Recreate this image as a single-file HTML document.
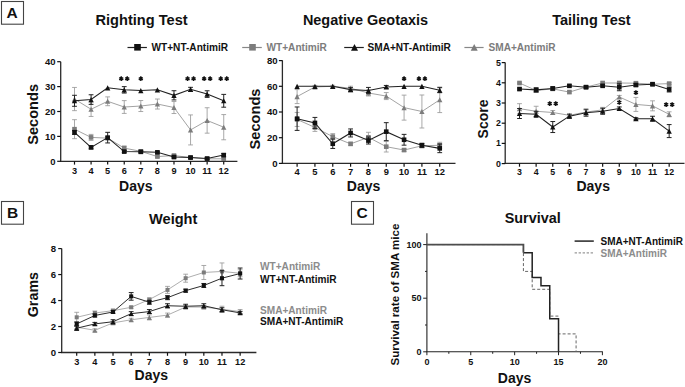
<!DOCTYPE html>
<html><head><meta charset="utf-8"><style>
html,body{margin:0;padding:0;background:#fff;}
svg{display:block;font-family:"Liberation Sans", sans-serif;}
</style></head><body>
<svg width="685" height="387" viewBox="0 0 685 387">
<rect width="685" height="387" fill="#fff"/>
<rect x="1.5" y="1.5" width="22" height="22.7" fill="none" stroke="#444" stroke-width="1.1"/>
<text x="12.20" y="17.90" font-size="15.5" fill="#111" text-anchor="middle" font-weight="bold" >A</text>
<rect x="1.5" y="201.5" width="22" height="22.7" fill="none" stroke="#444" stroke-width="1.1"/>
<text x="12.60" y="218.00" font-size="15.5" fill="#111" text-anchor="middle" font-weight="bold" >B</text>
<rect x="351.5" y="201.5" width="22" height="22.7" fill="none" stroke="#444" stroke-width="1.1"/>
<text x="362.20" y="218.00" font-size="15.5" fill="#111" text-anchor="middle" font-weight="bold" >C</text>
<text x="141.60" y="24.60" font-size="14.6" fill="#111" text-anchor="middle" font-weight="bold" >Righting Test</text>
<text x="365.50" y="25.10" font-size="14.45" fill="#111" text-anchor="middle" font-weight="bold" >Negative Geotaxis</text>
<text x="591.40" y="25.30" font-size="14.5" fill="#111" text-anchor="middle" font-weight="bold" >Tailing Test</text>
<text x="173.20" y="223.60" font-size="14.6" fill="#111" text-anchor="middle" font-weight="bold" >Weight</text>
<text x="532.70" y="223.40" font-size="14.4" fill="#111" text-anchor="middle" font-weight="bold" >Survival</text>
<line x1="127.50" y1="47.50" x2="146.90" y2="47.50" stroke="#222" stroke-width="1.2" />
<rect x="134.20" y="44.00" width="6.6" height="6.6" fill="#111"/>
<text x="151.50" y="50.90" font-size="10.1" fill="#111" text-anchor="start" font-weight="bold" >WT+NT-AntimiR</text>
<line x1="242.20" y1="47.50" x2="261.80" y2="47.50" stroke="#888" stroke-width="1.2" />
<rect x="249.20" y="44.00" width="6.6" height="6.6" fill="#7c7c7c"/>
<text x="266.50" y="50.90" font-size="10.1" fill="#7c7c7c" text-anchor="start" font-weight="bold" >WT+AntimiR</text>
<line x1="344.20" y1="47.50" x2="363.80" y2="47.50" stroke="#222" stroke-width="1.2" />
<path d="M351.00,50.82L358.00,50.82L354.50,43.88Z" fill="#111"/>
<text x="367.50" y="50.90" font-size="10.1" fill="#111" text-anchor="start" font-weight="bold" >SMA+NT-AntimiR</text>
<line x1="464.40" y1="47.50" x2="483.60" y2="47.50" stroke="#888" stroke-width="1.2" />
<path d="M470.70,50.82L477.70,50.82L474.20,43.88Z" fill="#7c7c7c"/>
<text x="488.50" y="50.90" font-size="10.1" fill="#7c7c7c" text-anchor="start" font-weight="bold" >SMA+AntimiR</text>
<line x1="60.70" y1="61.70" x2="60.70" y2="161.30" stroke="#2a2a2a" stroke-width="1.3" />
<line x1="60.05" y1="161.30" x2="237.40" y2="161.30" stroke="#2a2a2a" stroke-width="1.3" />
<line x1="57.20" y1="161.30" x2="60.70" y2="161.30" stroke="#111" stroke-width="1.2" />
<text x="55.60" y="164.53" font-size="9.5" fill="#111" text-anchor="end" font-weight="bold" >0</text>
<line x1="57.20" y1="136.40" x2="60.70" y2="136.40" stroke="#111" stroke-width="1.2" />
<text x="55.60" y="139.63" font-size="9.5" fill="#111" text-anchor="end" font-weight="bold" >10</text>
<line x1="57.20" y1="111.50" x2="60.70" y2="111.50" stroke="#111" stroke-width="1.2" />
<text x="55.60" y="114.73" font-size="9.5" fill="#111" text-anchor="end" font-weight="bold" >20</text>
<line x1="57.20" y1="86.60" x2="60.70" y2="86.60" stroke="#111" stroke-width="1.2" />
<text x="55.60" y="89.83" font-size="9.5" fill="#111" text-anchor="end" font-weight="bold" >30</text>
<line x1="57.20" y1="61.70" x2="60.70" y2="61.70" stroke="#111" stroke-width="1.2" />
<text x="55.60" y="64.93" font-size="9.5" fill="#111" text-anchor="end" font-weight="bold" >40</text>
<line x1="74.50" y1="161.30" x2="74.50" y2="164.60" stroke="#111" stroke-width="1.2" />
<text x="74.50" y="173.50" font-size="9.2" fill="#111" text-anchor="middle" font-weight="bold" >3</text>
<line x1="91.08" y1="161.30" x2="91.08" y2="164.60" stroke="#111" stroke-width="1.2" />
<text x="91.08" y="173.50" font-size="9.2" fill="#111" text-anchor="middle" font-weight="bold" >4</text>
<line x1="107.66" y1="161.30" x2="107.66" y2="164.60" stroke="#111" stroke-width="1.2" />
<text x="107.66" y="173.50" font-size="9.2" fill="#111" text-anchor="middle" font-weight="bold" >5</text>
<line x1="124.24" y1="161.30" x2="124.24" y2="164.60" stroke="#111" stroke-width="1.2" />
<text x="124.24" y="173.50" font-size="9.2" fill="#111" text-anchor="middle" font-weight="bold" >6</text>
<line x1="140.82" y1="161.30" x2="140.82" y2="164.60" stroke="#111" stroke-width="1.2" />
<text x="140.82" y="173.50" font-size="9.2" fill="#111" text-anchor="middle" font-weight="bold" >7</text>
<line x1="157.40" y1="161.30" x2="157.40" y2="164.60" stroke="#111" stroke-width="1.2" />
<text x="157.40" y="173.50" font-size="9.2" fill="#111" text-anchor="middle" font-weight="bold" >8</text>
<line x1="173.98" y1="161.30" x2="173.98" y2="164.60" stroke="#111" stroke-width="1.2" />
<text x="173.98" y="173.50" font-size="9.2" fill="#111" text-anchor="middle" font-weight="bold" >9</text>
<line x1="190.56" y1="161.30" x2="190.56" y2="164.60" stroke="#111" stroke-width="1.2" />
<text x="190.56" y="173.50" font-size="9.2" fill="#111" text-anchor="middle" font-weight="bold" >10</text>
<line x1="207.14" y1="161.30" x2="207.14" y2="164.60" stroke="#111" stroke-width="1.2" />
<text x="207.14" y="173.50" font-size="9.2" fill="#111" text-anchor="middle" font-weight="bold" >11</text>
<line x1="223.72" y1="161.30" x2="223.72" y2="164.60" stroke="#111" stroke-width="1.2" />
<text x="223.72" y="173.50" font-size="9.2" fill="#111" text-anchor="middle" font-weight="bold" >12</text>
<text x="135.80" y="191.30" font-size="14" fill="#111" text-anchor="middle" font-weight="bold" >Days</text>
<text transform="translate(38.0,114.4) rotate(-90)" font-size="14.6" font-weight="bold" fill="#111" text-anchor="middle">Seconds</text>
<polyline points="74.50,99.05 91.08,109.26 107.66,101.29 124.24,107.02 140.82,106.02 157.40,104.03 173.98,107.52 190.56,129.93 207.14,120.46 223.72,127.19" fill="none" stroke="#999" stroke-width="0.9"/>
<line x1="74.50" y1="87.45" x2="74.50" y2="110.65" stroke="#9a9a9a" stroke-width="0.85" />
<line x1="72.10" y1="87.45" x2="76.90" y2="87.45" stroke="#9a9a9a" stroke-width="0.85" />
<line x1="72.10" y1="110.65" x2="76.90" y2="110.65" stroke="#9a9a9a" stroke-width="0.85" />
<line x1="91.08" y1="102.06" x2="91.08" y2="116.46" stroke="#9a9a9a" stroke-width="0.85" />
<line x1="88.68" y1="102.06" x2="93.48" y2="102.06" stroke="#9a9a9a" stroke-width="0.85" />
<line x1="88.68" y1="116.46" x2="93.48" y2="116.46" stroke="#9a9a9a" stroke-width="0.85" />
<line x1="107.66" y1="96.89" x2="107.66" y2="105.69" stroke="#9a9a9a" stroke-width="0.85" />
<line x1="105.26" y1="96.89" x2="110.06" y2="96.89" stroke="#9a9a9a" stroke-width="0.85" />
<line x1="105.26" y1="105.69" x2="110.06" y2="105.69" stroke="#9a9a9a" stroke-width="0.85" />
<line x1="124.24" y1="100.62" x2="124.24" y2="113.42" stroke="#9a9a9a" stroke-width="0.85" />
<line x1="121.84" y1="100.62" x2="126.64" y2="100.62" stroke="#9a9a9a" stroke-width="0.85" />
<line x1="121.84" y1="113.42" x2="126.64" y2="113.42" stroke="#9a9a9a" stroke-width="0.85" />
<line x1="140.82" y1="100.52" x2="140.82" y2="111.52" stroke="#9a9a9a" stroke-width="0.85" />
<line x1="138.42" y1="100.52" x2="143.22" y2="100.52" stroke="#9a9a9a" stroke-width="0.85" />
<line x1="138.42" y1="111.52" x2="143.22" y2="111.52" stroke="#9a9a9a" stroke-width="0.85" />
<line x1="157.40" y1="99.03" x2="157.40" y2="109.03" stroke="#9a9a9a" stroke-width="0.85" />
<line x1="155.00" y1="99.03" x2="159.80" y2="99.03" stroke="#9a9a9a" stroke-width="0.85" />
<line x1="155.00" y1="109.03" x2="159.80" y2="109.03" stroke="#9a9a9a" stroke-width="0.85" />
<line x1="173.98" y1="101.52" x2="173.98" y2="113.52" stroke="#9a9a9a" stroke-width="0.85" />
<line x1="171.58" y1="101.52" x2="176.38" y2="101.52" stroke="#9a9a9a" stroke-width="0.85" />
<line x1="171.58" y1="113.52" x2="176.38" y2="113.52" stroke="#9a9a9a" stroke-width="0.85" />
<line x1="190.56" y1="114.93" x2="190.56" y2="144.93" stroke="#9a9a9a" stroke-width="0.85" />
<line x1="188.16" y1="114.93" x2="192.96" y2="114.93" stroke="#9a9a9a" stroke-width="0.85" />
<line x1="188.16" y1="144.93" x2="192.96" y2="144.93" stroke="#9a9a9a" stroke-width="0.85" />
<line x1="207.14" y1="107.76" x2="207.14" y2="133.16" stroke="#9a9a9a" stroke-width="0.85" />
<line x1="204.74" y1="107.76" x2="209.54" y2="107.76" stroke="#9a9a9a" stroke-width="0.85" />
<line x1="204.74" y1="133.16" x2="209.54" y2="133.16" stroke="#9a9a9a" stroke-width="0.85" />
<line x1="223.72" y1="114.59" x2="223.72" y2="139.79" stroke="#9a9a9a" stroke-width="0.85" />
<line x1="221.32" y1="114.59" x2="226.12" y2="114.59" stroke="#9a9a9a" stroke-width="0.85" />
<line x1="221.32" y1="139.79" x2="226.12" y2="139.79" stroke="#9a9a9a" stroke-width="0.85" />
<path d="M71.85,101.63L77.15,101.63L74.50,96.57Z" fill="#7c7c7c"/>
<path d="M88.43,111.84L93.73,111.84L91.08,106.78Z" fill="#7c7c7c"/>
<path d="M105.01,103.87L110.31,103.87L107.66,98.81Z" fill="#7c7c7c"/>
<path d="M121.59,109.60L126.89,109.60L124.24,104.54Z" fill="#7c7c7c"/>
<path d="M138.17,108.60L143.47,108.60L140.82,103.54Z" fill="#7c7c7c"/>
<path d="M154.75,106.61L160.05,106.61L157.40,101.55Z" fill="#7c7c7c"/>
<path d="M171.33,110.09L176.63,110.09L173.98,105.04Z" fill="#7c7c7c"/>
<path d="M187.91,132.51L193.21,132.51L190.56,127.45Z" fill="#7c7c7c"/>
<path d="M204.49,123.04L209.79,123.04L207.14,117.99Z" fill="#7c7c7c"/>
<path d="M221.07,129.77L226.37,129.77L223.72,124.71Z" fill="#7c7c7c"/>
<polyline points="74.50,129.18 91.08,137.40 107.66,138.14 124.24,148.10 140.82,151.34 157.40,156.57 173.98,155.57 190.56,157.56 207.14,158.81 223.72,158.81" fill="none" stroke="#999" stroke-width="0.9"/>
<line x1="74.50" y1="119.68" x2="74.50" y2="138.68" stroke="#9a9a9a" stroke-width="0.85" />
<line x1="72.10" y1="119.68" x2="76.90" y2="119.68" stroke="#9a9a9a" stroke-width="0.85" />
<line x1="72.10" y1="138.68" x2="76.90" y2="138.68" stroke="#9a9a9a" stroke-width="0.85" />
<line x1="91.08" y1="134.40" x2="91.08" y2="140.40" stroke="#9a9a9a" stroke-width="0.85" />
<line x1="88.68" y1="134.40" x2="93.48" y2="134.40" stroke="#9a9a9a" stroke-width="0.85" />
<line x1="88.68" y1="140.40" x2="93.48" y2="140.40" stroke="#9a9a9a" stroke-width="0.85" />
<line x1="107.66" y1="136.64" x2="107.66" y2="139.64" stroke="#9a9a9a" stroke-width="0.85" />
<line x1="105.26" y1="136.64" x2="110.06" y2="136.64" stroke="#9a9a9a" stroke-width="0.85" />
<line x1="105.26" y1="139.64" x2="110.06" y2="139.64" stroke="#9a9a9a" stroke-width="0.85" />
<line x1="124.24" y1="146.10" x2="124.24" y2="150.10" stroke="#9a9a9a" stroke-width="0.85" />
<line x1="121.84" y1="146.10" x2="126.64" y2="146.10" stroke="#9a9a9a" stroke-width="0.85" />
<line x1="121.84" y1="150.10" x2="126.64" y2="150.10" stroke="#9a9a9a" stroke-width="0.85" />
<line x1="140.82" y1="150.34" x2="140.82" y2="152.34" stroke="#9a9a9a" stroke-width="0.85" />
<line x1="138.42" y1="150.34" x2="143.22" y2="150.34" stroke="#9a9a9a" stroke-width="0.85" />
<line x1="138.42" y1="152.34" x2="143.22" y2="152.34" stroke="#9a9a9a" stroke-width="0.85" />
<line x1="157.40" y1="155.57" x2="157.40" y2="157.57" stroke="#9a9a9a" stroke-width="0.85" />
<line x1="155.00" y1="155.57" x2="159.80" y2="155.57" stroke="#9a9a9a" stroke-width="0.85" />
<line x1="155.00" y1="157.57" x2="159.80" y2="157.57" stroke="#9a9a9a" stroke-width="0.85" />
<line x1="173.98" y1="154.57" x2="173.98" y2="156.57" stroke="#9a9a9a" stroke-width="0.85" />
<line x1="171.58" y1="154.57" x2="176.38" y2="154.57" stroke="#9a9a9a" stroke-width="0.85" />
<line x1="171.58" y1="156.57" x2="176.38" y2="156.57" stroke="#9a9a9a" stroke-width="0.85" />
<line x1="190.56" y1="156.56" x2="190.56" y2="158.56" stroke="#9a9a9a" stroke-width="0.85" />
<line x1="188.16" y1="156.56" x2="192.96" y2="156.56" stroke="#9a9a9a" stroke-width="0.85" />
<line x1="188.16" y1="158.56" x2="192.96" y2="158.56" stroke="#9a9a9a" stroke-width="0.85" />
<line x1="207.14" y1="157.81" x2="207.14" y2="159.81" stroke="#9a9a9a" stroke-width="0.85" />
<line x1="204.74" y1="157.81" x2="209.54" y2="157.81" stroke="#9a9a9a" stroke-width="0.85" />
<line x1="204.74" y1="159.81" x2="209.54" y2="159.81" stroke="#9a9a9a" stroke-width="0.85" />
<line x1="223.72" y1="157.81" x2="223.72" y2="159.81" stroke="#9a9a9a" stroke-width="0.85" />
<line x1="221.32" y1="157.81" x2="226.12" y2="157.81" stroke="#9a9a9a" stroke-width="0.85" />
<line x1="221.32" y1="159.81" x2="226.12" y2="159.81" stroke="#9a9a9a" stroke-width="0.85" />
<rect x="72.20" y="126.88" width="4.6" height="4.6" fill="#7c7c7c"/>
<rect x="88.78" y="135.10" width="4.6" height="4.6" fill="#7c7c7c"/>
<rect x="105.36" y="135.84" width="4.6" height="4.6" fill="#7c7c7c"/>
<rect x="121.94" y="145.80" width="4.6" height="4.6" fill="#7c7c7c"/>
<rect x="138.52" y="149.04" width="4.6" height="4.6" fill="#7c7c7c"/>
<rect x="155.10" y="154.27" width="4.6" height="4.6" fill="#7c7c7c"/>
<rect x="171.68" y="153.27" width="4.6" height="4.6" fill="#7c7c7c"/>
<rect x="188.26" y="155.26" width="4.6" height="4.6" fill="#7c7c7c"/>
<rect x="204.84" y="156.51" width="4.6" height="4.6" fill="#7c7c7c"/>
<rect x="221.42" y="156.51" width="4.6" height="4.6" fill="#7c7c7c"/>
<polyline points="74.50,132.42 91.08,147.36 107.66,137.65 124.24,151.59 140.82,151.84 157.40,152.34 173.98,157.07 190.56,157.56 207.14,158.56 223.72,155.08" fill="none" stroke="#222" stroke-width="1.05"/>
<line x1="74.50" y1="130.42" x2="74.50" y2="134.42" stroke="#222" stroke-width="1" />
<line x1="72.10" y1="130.42" x2="76.90" y2="130.42" stroke="#222" stroke-width="1" />
<line x1="72.10" y1="134.42" x2="76.90" y2="134.42" stroke="#222" stroke-width="1" />
<line x1="91.08" y1="145.86" x2="91.08" y2="148.86" stroke="#222" stroke-width="1" />
<line x1="88.68" y1="145.86" x2="93.48" y2="145.86" stroke="#222" stroke-width="1" />
<line x1="88.68" y1="148.86" x2="93.48" y2="148.86" stroke="#222" stroke-width="1" />
<line x1="107.66" y1="132.34" x2="107.66" y2="142.95" stroke="#222" stroke-width="1" />
<line x1="105.26" y1="132.34" x2="110.06" y2="132.34" stroke="#222" stroke-width="1" />
<line x1="105.26" y1="142.95" x2="110.06" y2="142.95" stroke="#222" stroke-width="1" />
<line x1="124.24" y1="150.59" x2="124.24" y2="152.59" stroke="#222" stroke-width="1" />
<line x1="121.84" y1="150.59" x2="126.64" y2="150.59" stroke="#222" stroke-width="1" />
<line x1="121.84" y1="152.59" x2="126.64" y2="152.59" stroke="#222" stroke-width="1" />
<line x1="140.82" y1="150.84" x2="140.82" y2="152.84" stroke="#222" stroke-width="1" />
<line x1="138.42" y1="150.84" x2="143.22" y2="150.84" stroke="#222" stroke-width="1" />
<line x1="138.42" y1="152.84" x2="143.22" y2="152.84" stroke="#222" stroke-width="1" />
<line x1="157.40" y1="151.34" x2="157.40" y2="153.34" stroke="#222" stroke-width="1" />
<line x1="155.00" y1="151.34" x2="159.80" y2="151.34" stroke="#222" stroke-width="1" />
<line x1="155.00" y1="153.34" x2="159.80" y2="153.34" stroke="#222" stroke-width="1" />
<line x1="173.98" y1="156.07" x2="173.98" y2="158.07" stroke="#222" stroke-width="1" />
<line x1="171.58" y1="156.07" x2="176.38" y2="156.07" stroke="#222" stroke-width="1" />
<line x1="171.58" y1="158.07" x2="176.38" y2="158.07" stroke="#222" stroke-width="1" />
<line x1="190.56" y1="156.56" x2="190.56" y2="158.56" stroke="#222" stroke-width="1" />
<line x1="188.16" y1="156.56" x2="192.96" y2="156.56" stroke="#222" stroke-width="1" />
<line x1="188.16" y1="158.56" x2="192.96" y2="158.56" stroke="#222" stroke-width="1" />
<line x1="207.14" y1="157.56" x2="207.14" y2="159.56" stroke="#222" stroke-width="1" />
<line x1="204.74" y1="157.56" x2="209.54" y2="157.56" stroke="#222" stroke-width="1" />
<line x1="204.74" y1="159.56" x2="209.54" y2="159.56" stroke="#222" stroke-width="1" />
<line x1="223.72" y1="153.58" x2="223.72" y2="156.58" stroke="#222" stroke-width="1" />
<line x1="221.32" y1="153.58" x2="226.12" y2="153.58" stroke="#222" stroke-width="1" />
<line x1="221.32" y1="156.58" x2="226.12" y2="156.58" stroke="#222" stroke-width="1" />
<rect x="72.20" y="130.12" width="4.6" height="4.6" fill="#111"/>
<rect x="88.78" y="145.06" width="4.6" height="4.6" fill="#111"/>
<rect x="105.36" y="135.34" width="4.6" height="4.6" fill="#111"/>
<rect x="121.94" y="149.29" width="4.6" height="4.6" fill="#111"/>
<rect x="138.52" y="149.54" width="4.6" height="4.6" fill="#111"/>
<rect x="155.10" y="150.04" width="4.6" height="4.6" fill="#111"/>
<rect x="171.68" y="154.77" width="4.6" height="4.6" fill="#111"/>
<rect x="188.26" y="155.26" width="4.6" height="4.6" fill="#111"/>
<rect x="204.84" y="156.26" width="4.6" height="4.6" fill="#111"/>
<rect x="221.42" y="152.78" width="4.6" height="4.6" fill="#111"/>
<polyline points="74.50,100.79 91.08,99.55 107.66,87.84 124.24,89.84 140.82,90.58 157.40,89.84 173.98,95.32 190.56,89.34 207.14,94.07 223.72,100.79" fill="none" stroke="#222" stroke-width="1.05"/>
<line x1="74.50" y1="95.29" x2="74.50" y2="106.29" stroke="#222" stroke-width="1" />
<line x1="72.10" y1="95.29" x2="76.90" y2="95.29" stroke="#222" stroke-width="1" />
<line x1="72.10" y1="106.29" x2="76.90" y2="106.29" stroke="#222" stroke-width="1" />
<line x1="91.08" y1="94.75" x2="91.08" y2="104.35" stroke="#222" stroke-width="1" />
<line x1="88.68" y1="94.75" x2="93.48" y2="94.75" stroke="#222" stroke-width="1" />
<line x1="88.68" y1="104.35" x2="93.48" y2="104.35" stroke="#222" stroke-width="1" />
<line x1="124.24" y1="86.64" x2="124.24" y2="93.04" stroke="#222" stroke-width="1" />
<line x1="121.84" y1="86.64" x2="126.64" y2="86.64" stroke="#222" stroke-width="1" />
<line x1="121.84" y1="93.04" x2="126.64" y2="93.04" stroke="#222" stroke-width="1" />
<line x1="173.98" y1="90.72" x2="173.98" y2="99.92" stroke="#222" stroke-width="1" />
<line x1="171.58" y1="90.72" x2="176.38" y2="90.72" stroke="#222" stroke-width="1" />
<line x1="171.58" y1="99.92" x2="176.38" y2="99.92" stroke="#222" stroke-width="1" />
<line x1="190.56" y1="87.34" x2="190.56" y2="91.34" stroke="#222" stroke-width="1" />
<line x1="188.16" y1="87.34" x2="192.96" y2="87.34" stroke="#222" stroke-width="1" />
<line x1="188.16" y1="91.34" x2="192.96" y2="91.34" stroke="#222" stroke-width="1" />
<line x1="207.14" y1="90.77" x2="207.14" y2="97.37" stroke="#222" stroke-width="1" />
<line x1="204.74" y1="90.77" x2="209.54" y2="90.77" stroke="#222" stroke-width="1" />
<line x1="204.74" y1="97.37" x2="209.54" y2="97.37" stroke="#222" stroke-width="1" />
<line x1="223.72" y1="94.39" x2="223.72" y2="107.19" stroke="#222" stroke-width="1" />
<line x1="221.32" y1="94.39" x2="226.12" y2="94.39" stroke="#222" stroke-width="1" />
<line x1="221.32" y1="107.19" x2="226.12" y2="107.19" stroke="#222" stroke-width="1" />
<path d="M71.85,103.37L77.15,103.37L74.50,98.31Z" fill="#111"/>
<path d="M88.43,102.13L93.73,102.13L91.08,97.07Z" fill="#111"/>
<path d="M105.01,90.42L110.31,90.42L107.66,85.37Z" fill="#111"/>
<path d="M121.59,92.42L126.89,92.42L124.24,87.36Z" fill="#111"/>
<path d="M138.17,93.16L143.47,93.16L140.82,88.11Z" fill="#111"/>
<path d="M154.75,92.42L160.05,92.42L157.40,87.36Z" fill="#111"/>
<path d="M171.33,97.89L176.63,97.89L173.98,92.84Z" fill="#111"/>
<path d="M187.91,91.92L193.21,91.92L190.56,86.86Z" fill="#111"/>
<path d="M204.49,96.65L209.79,96.65L207.14,91.59Z" fill="#111"/>
<path d="M221.07,103.37L226.37,103.37L223.72,98.31Z" fill="#111"/>
<path d="M121.24,76.35L121.24,81.05M119.20,77.53L123.28,79.88M123.28,77.53L119.20,79.88" stroke="#111" stroke-width="1.45" fill="none"/>
<path d="M127.24,76.35L127.24,81.05M125.20,77.53L129.28,79.88M129.28,77.53L125.20,79.88" stroke="#111" stroke-width="1.45" fill="none"/>
<path d="M140.82,76.35L140.82,81.05M138.78,77.53L142.86,79.88M142.86,77.53L138.78,79.88" stroke="#111" stroke-width="1.45" fill="none"/>
<path d="M187.56,76.35L187.56,81.05M185.52,77.53L189.60,79.88M189.60,77.53L185.52,79.88" stroke="#111" stroke-width="1.45" fill="none"/>
<path d="M193.56,76.35L193.56,81.05M191.52,77.53L195.60,79.88M195.60,77.53L191.52,79.88" stroke="#111" stroke-width="1.45" fill="none"/>
<path d="M204.14,76.35L204.14,81.05M202.10,77.53L206.18,79.88M206.18,77.53L202.10,79.88" stroke="#111" stroke-width="1.45" fill="none"/>
<path d="M210.14,76.35L210.14,81.05M208.10,77.53L212.18,79.88M212.18,77.53L208.10,79.88" stroke="#111" stroke-width="1.45" fill="none"/>
<path d="M220.72,76.35L220.72,81.05M218.68,77.53L222.76,79.88M222.76,77.53L218.68,79.88" stroke="#111" stroke-width="1.45" fill="none"/>
<path d="M226.72,76.35L226.72,81.05M224.68,77.53L228.76,79.88M228.76,77.53L224.68,79.88" stroke="#111" stroke-width="1.45" fill="none"/>
<line x1="282.40" y1="60.30" x2="282.40" y2="163.40" stroke="#2a2a2a" stroke-width="1.3" />
<line x1="281.75" y1="163.40" x2="455.50" y2="163.40" stroke="#2a2a2a" stroke-width="1.3" />
<line x1="278.90" y1="163.40" x2="282.40" y2="163.40" stroke="#111" stroke-width="1.2" />
<text x="277.60" y="166.66" font-size="9.6" fill="#111" text-anchor="end" font-weight="bold" >0</text>
<line x1="278.90" y1="137.70" x2="282.40" y2="137.70" stroke="#111" stroke-width="1.2" />
<text x="277.60" y="140.96" font-size="9.6" fill="#111" text-anchor="end" font-weight="bold" >20</text>
<line x1="278.90" y1="112.00" x2="282.40" y2="112.00" stroke="#111" stroke-width="1.2" />
<text x="277.60" y="115.26" font-size="9.6" fill="#111" text-anchor="end" font-weight="bold" >40</text>
<line x1="278.90" y1="86.30" x2="282.40" y2="86.30" stroke="#111" stroke-width="1.2" />
<text x="277.60" y="89.56" font-size="9.6" fill="#111" text-anchor="end" font-weight="bold" >60</text>
<line x1="278.90" y1="60.60" x2="282.40" y2="60.60" stroke="#111" stroke-width="1.2" />
<text x="277.60" y="63.86" font-size="9.6" fill="#111" text-anchor="end" font-weight="bold" >80</text>
<line x1="297.10" y1="163.40" x2="297.10" y2="166.70" stroke="#111" stroke-width="1.2" />
<text x="297.10" y="175.20" font-size="9.4" fill="#111" text-anchor="middle" font-weight="bold" >4</text>
<line x1="314.93" y1="163.40" x2="314.93" y2="166.70" stroke="#111" stroke-width="1.2" />
<text x="314.93" y="175.20" font-size="9.4" fill="#111" text-anchor="middle" font-weight="bold" >5</text>
<line x1="332.76" y1="163.40" x2="332.76" y2="166.70" stroke="#111" stroke-width="1.2" />
<text x="332.76" y="175.20" font-size="9.4" fill="#111" text-anchor="middle" font-weight="bold" >6</text>
<line x1="350.59" y1="163.40" x2="350.59" y2="166.70" stroke="#111" stroke-width="1.2" />
<text x="350.59" y="175.20" font-size="9.4" fill="#111" text-anchor="middle" font-weight="bold" >7</text>
<line x1="368.42" y1="163.40" x2="368.42" y2="166.70" stroke="#111" stroke-width="1.2" />
<text x="368.42" y="175.20" font-size="9.4" fill="#111" text-anchor="middle" font-weight="bold" >8</text>
<line x1="386.25" y1="163.40" x2="386.25" y2="166.70" stroke="#111" stroke-width="1.2" />
<text x="386.25" y="175.20" font-size="9.4" fill="#111" text-anchor="middle" font-weight="bold" >9</text>
<line x1="404.08" y1="163.40" x2="404.08" y2="166.70" stroke="#111" stroke-width="1.2" />
<text x="404.08" y="175.20" font-size="9.4" fill="#111" text-anchor="middle" font-weight="bold" >10</text>
<line x1="421.91" y1="163.40" x2="421.91" y2="166.70" stroke="#111" stroke-width="1.2" />
<text x="421.91" y="175.20" font-size="9.4" fill="#111" text-anchor="middle" font-weight="bold" >11</text>
<line x1="439.74" y1="163.40" x2="439.74" y2="166.70" stroke="#111" stroke-width="1.2" />
<text x="439.74" y="175.20" font-size="9.4" fill="#111" text-anchor="middle" font-weight="bold" >12</text>
<text x="363.50" y="190.70" font-size="14" fill="#111" text-anchor="middle" font-weight="bold" >Days</text>
<text transform="translate(259.7,119) rotate(-90)" font-size="14.6" font-weight="bold" fill="#111" text-anchor="middle">Seconds</text>
<polyline points="297.10,96.58 314.93,86.94 332.76,86.30 350.59,88.23 368.42,92.98 386.25,96.07 404.08,107.63 421.91,111.49 439.74,99.79" fill="none" stroke="#999" stroke-width="0.9"/>
<line x1="297.10" y1="89.58" x2="297.10" y2="103.58" stroke="#9a9a9a" stroke-width="0.85" />
<line x1="294.70" y1="89.58" x2="299.50" y2="89.58" stroke="#9a9a9a" stroke-width="0.85" />
<line x1="294.70" y1="103.58" x2="299.50" y2="103.58" stroke="#9a9a9a" stroke-width="0.85" />
<line x1="314.93" y1="85.44" x2="314.93" y2="88.44" stroke="#9a9a9a" stroke-width="0.85" />
<line x1="312.53" y1="85.44" x2="317.33" y2="85.44" stroke="#9a9a9a" stroke-width="0.85" />
<line x1="312.53" y1="88.44" x2="317.33" y2="88.44" stroke="#9a9a9a" stroke-width="0.85" />
<line x1="332.76" y1="85.30" x2="332.76" y2="87.30" stroke="#9a9a9a" stroke-width="0.85" />
<line x1="330.36" y1="85.30" x2="335.16" y2="85.30" stroke="#9a9a9a" stroke-width="0.85" />
<line x1="330.36" y1="87.30" x2="335.16" y2="87.30" stroke="#9a9a9a" stroke-width="0.85" />
<line x1="350.59" y1="86.23" x2="350.59" y2="90.23" stroke="#9a9a9a" stroke-width="0.85" />
<line x1="348.19" y1="86.23" x2="352.99" y2="86.23" stroke="#9a9a9a" stroke-width="0.85" />
<line x1="348.19" y1="90.23" x2="352.99" y2="90.23" stroke="#9a9a9a" stroke-width="0.85" />
<line x1="368.42" y1="89.98" x2="368.42" y2="95.98" stroke="#9a9a9a" stroke-width="0.85" />
<line x1="366.02" y1="89.98" x2="370.82" y2="89.98" stroke="#9a9a9a" stroke-width="0.85" />
<line x1="366.02" y1="95.98" x2="370.82" y2="95.98" stroke="#9a9a9a" stroke-width="0.85" />
<line x1="386.25" y1="92.57" x2="386.25" y2="99.57" stroke="#9a9a9a" stroke-width="0.85" />
<line x1="383.85" y1="92.57" x2="388.65" y2="92.57" stroke="#9a9a9a" stroke-width="0.85" />
<line x1="383.85" y1="99.57" x2="388.65" y2="99.57" stroke="#9a9a9a" stroke-width="0.85" />
<line x1="404.08" y1="95.13" x2="404.08" y2="120.13" stroke="#9a9a9a" stroke-width="0.85" />
<line x1="401.68" y1="95.13" x2="406.48" y2="95.13" stroke="#9a9a9a" stroke-width="0.85" />
<line x1="401.68" y1="120.13" x2="406.48" y2="120.13" stroke="#9a9a9a" stroke-width="0.85" />
<line x1="421.91" y1="94.99" x2="421.91" y2="127.99" stroke="#9a9a9a" stroke-width="0.85" />
<line x1="419.51" y1="94.99" x2="424.31" y2="94.99" stroke="#9a9a9a" stroke-width="0.85" />
<line x1="419.51" y1="127.99" x2="424.31" y2="127.99" stroke="#9a9a9a" stroke-width="0.85" />
<line x1="439.74" y1="86.99" x2="439.74" y2="112.59" stroke="#9a9a9a" stroke-width="0.85" />
<line x1="437.34" y1="86.99" x2="442.14" y2="86.99" stroke="#9a9a9a" stroke-width="0.85" />
<line x1="437.34" y1="112.59" x2="442.14" y2="112.59" stroke="#9a9a9a" stroke-width="0.85" />
<path d="M294.45,99.16L299.75,99.16L297.10,94.10Z" fill="#7c7c7c"/>
<path d="M312.28,89.52L317.58,89.52L314.93,84.46Z" fill="#7c7c7c"/>
<path d="M330.11,88.88L335.41,88.88L332.76,83.82Z" fill="#7c7c7c"/>
<path d="M347.94,90.81L353.24,90.81L350.59,85.75Z" fill="#7c7c7c"/>
<path d="M365.77,95.56L371.07,95.56L368.42,90.50Z" fill="#7c7c7c"/>
<path d="M383.60,98.65L388.90,98.65L386.25,93.59Z" fill="#7c7c7c"/>
<path d="M401.43,110.21L406.73,110.21L404.08,105.15Z" fill="#7c7c7c"/>
<path d="M419.26,114.07L424.56,114.07L421.91,109.01Z" fill="#7c7c7c"/>
<path d="M437.09,102.37L442.39,102.37L439.74,97.31Z" fill="#7c7c7c"/>
<polyline points="297.10,119.45 314.93,127.42 332.76,136.67 350.59,143.87 368.42,137.31 386.25,146.69 404.08,150.04 421.91,145.80 439.74,145.28" fill="none" stroke="#999" stroke-width="0.9"/>
<line x1="297.10" y1="112.45" x2="297.10" y2="126.45" stroke="#9a9a9a" stroke-width="0.85" />
<line x1="294.70" y1="112.45" x2="299.50" y2="112.45" stroke="#9a9a9a" stroke-width="0.85" />
<line x1="294.70" y1="126.45" x2="299.50" y2="126.45" stroke="#9a9a9a" stroke-width="0.85" />
<line x1="314.93" y1="123.42" x2="314.93" y2="131.42" stroke="#9a9a9a" stroke-width="0.85" />
<line x1="312.53" y1="123.42" x2="317.33" y2="123.42" stroke="#9a9a9a" stroke-width="0.85" />
<line x1="312.53" y1="131.42" x2="317.33" y2="131.42" stroke="#9a9a9a" stroke-width="0.85" />
<line x1="332.76" y1="133.67" x2="332.76" y2="139.67" stroke="#9a9a9a" stroke-width="0.85" />
<line x1="330.36" y1="133.67" x2="335.16" y2="133.67" stroke="#9a9a9a" stroke-width="0.85" />
<line x1="330.36" y1="139.67" x2="335.16" y2="139.67" stroke="#9a9a9a" stroke-width="0.85" />
<line x1="350.59" y1="142.37" x2="350.59" y2="145.37" stroke="#9a9a9a" stroke-width="0.85" />
<line x1="348.19" y1="142.37" x2="352.99" y2="142.37" stroke="#9a9a9a" stroke-width="0.85" />
<line x1="348.19" y1="145.37" x2="352.99" y2="145.37" stroke="#9a9a9a" stroke-width="0.85" />
<line x1="368.42" y1="132.31" x2="368.42" y2="142.31" stroke="#9a9a9a" stroke-width="0.85" />
<line x1="366.02" y1="132.31" x2="370.82" y2="132.31" stroke="#9a9a9a" stroke-width="0.85" />
<line x1="366.02" y1="142.31" x2="370.82" y2="142.31" stroke="#9a9a9a" stroke-width="0.85" />
<line x1="386.25" y1="141.39" x2="386.25" y2="152.00" stroke="#9a9a9a" stroke-width="0.85" />
<line x1="383.85" y1="141.39" x2="388.65" y2="141.39" stroke="#9a9a9a" stroke-width="0.85" />
<line x1="383.85" y1="152.00" x2="388.65" y2="152.00" stroke="#9a9a9a" stroke-width="0.85" />
<line x1="404.08" y1="148.54" x2="404.08" y2="151.54" stroke="#9a9a9a" stroke-width="0.85" />
<line x1="401.68" y1="148.54" x2="406.48" y2="148.54" stroke="#9a9a9a" stroke-width="0.85" />
<line x1="401.68" y1="151.54" x2="406.48" y2="151.54" stroke="#9a9a9a" stroke-width="0.85" />
<line x1="421.91" y1="143.80" x2="421.91" y2="147.80" stroke="#9a9a9a" stroke-width="0.85" />
<line x1="419.51" y1="143.80" x2="424.31" y2="143.80" stroke="#9a9a9a" stroke-width="0.85" />
<line x1="419.51" y1="147.80" x2="424.31" y2="147.80" stroke="#9a9a9a" stroke-width="0.85" />
<line x1="439.74" y1="142.28" x2="439.74" y2="148.28" stroke="#9a9a9a" stroke-width="0.85" />
<line x1="437.34" y1="142.28" x2="442.14" y2="142.28" stroke="#9a9a9a" stroke-width="0.85" />
<line x1="437.34" y1="148.28" x2="442.14" y2="148.28" stroke="#9a9a9a" stroke-width="0.85" />
<rect x="294.80" y="117.15" width="4.6" height="4.6" fill="#7c7c7c"/>
<rect x="312.63" y="125.12" width="4.6" height="4.6" fill="#7c7c7c"/>
<rect x="330.46" y="134.37" width="4.6" height="4.6" fill="#7c7c7c"/>
<rect x="348.29" y="141.57" width="4.6" height="4.6" fill="#7c7c7c"/>
<rect x="366.12" y="135.01" width="4.6" height="4.6" fill="#7c7c7c"/>
<rect x="383.95" y="144.39" width="4.6" height="4.6" fill="#7c7c7c"/>
<rect x="401.78" y="147.74" width="4.6" height="4.6" fill="#7c7c7c"/>
<rect x="419.61" y="143.50" width="4.6" height="4.6" fill="#7c7c7c"/>
<rect x="437.44" y="142.98" width="4.6" height="4.6" fill="#7c7c7c"/>
<polyline points="297.10,118.68 314.93,122.92 332.76,143.74 350.59,132.95 368.42,140.53 386.25,131.66 404.08,139.76 421.91,145.28 439.74,148.37" fill="none" stroke="#222" stroke-width="1.05"/>
<line x1="297.10" y1="106.98" x2="297.10" y2="130.38" stroke="#222" stroke-width="1" />
<line x1="294.70" y1="106.98" x2="299.50" y2="106.98" stroke="#222" stroke-width="1" />
<line x1="294.70" y1="130.38" x2="299.50" y2="130.38" stroke="#222" stroke-width="1" />
<line x1="314.93" y1="117.42" x2="314.93" y2="128.42" stroke="#222" stroke-width="1" />
<line x1="312.53" y1="117.42" x2="317.33" y2="117.42" stroke="#222" stroke-width="1" />
<line x1="312.53" y1="128.42" x2="317.33" y2="128.42" stroke="#222" stroke-width="1" />
<line x1="332.76" y1="139.04" x2="332.76" y2="148.44" stroke="#222" stroke-width="1" />
<line x1="330.36" y1="139.04" x2="335.16" y2="139.04" stroke="#222" stroke-width="1" />
<line x1="330.36" y1="148.44" x2="335.16" y2="148.44" stroke="#222" stroke-width="1" />
<line x1="350.59" y1="128.95" x2="350.59" y2="136.95" stroke="#222" stroke-width="1" />
<line x1="348.19" y1="128.95" x2="352.99" y2="128.95" stroke="#222" stroke-width="1" />
<line x1="348.19" y1="136.95" x2="352.99" y2="136.95" stroke="#222" stroke-width="1" />
<line x1="368.42" y1="137.03" x2="368.42" y2="144.03" stroke="#222" stroke-width="1" />
<line x1="366.02" y1="137.03" x2="370.82" y2="137.03" stroke="#222" stroke-width="1" />
<line x1="366.02" y1="144.03" x2="370.82" y2="144.03" stroke="#222" stroke-width="1" />
<line x1="386.25" y1="122.66" x2="386.25" y2="140.66" stroke="#222" stroke-width="1" />
<line x1="383.85" y1="122.66" x2="388.65" y2="122.66" stroke="#222" stroke-width="1" />
<line x1="383.85" y1="140.66" x2="388.65" y2="140.66" stroke="#222" stroke-width="1" />
<line x1="404.08" y1="134.36" x2="404.08" y2="145.16" stroke="#222" stroke-width="1" />
<line x1="401.68" y1="134.36" x2="406.48" y2="134.36" stroke="#222" stroke-width="1" />
<line x1="401.68" y1="145.16" x2="406.48" y2="145.16" stroke="#222" stroke-width="1" />
<line x1="421.91" y1="143.28" x2="421.91" y2="147.28" stroke="#222" stroke-width="1" />
<line x1="419.51" y1="143.28" x2="424.31" y2="143.28" stroke="#222" stroke-width="1" />
<line x1="419.51" y1="147.28" x2="424.31" y2="147.28" stroke="#222" stroke-width="1" />
<line x1="439.74" y1="144.07" x2="439.74" y2="152.67" stroke="#222" stroke-width="1" />
<line x1="437.34" y1="144.07" x2="442.14" y2="144.07" stroke="#222" stroke-width="1" />
<line x1="437.34" y1="152.67" x2="442.14" y2="152.67" stroke="#222" stroke-width="1" />
<rect x="294.80" y="116.38" width="4.6" height="4.6" fill="#111"/>
<rect x="312.63" y="120.62" width="4.6" height="4.6" fill="#111"/>
<rect x="330.46" y="141.44" width="4.6" height="4.6" fill="#111"/>
<rect x="348.29" y="130.65" width="4.6" height="4.6" fill="#111"/>
<rect x="366.12" y="138.23" width="4.6" height="4.6" fill="#111"/>
<rect x="383.95" y="129.36" width="4.6" height="4.6" fill="#111"/>
<rect x="401.78" y="137.46" width="4.6" height="4.6" fill="#111"/>
<rect x="419.61" y="142.98" width="4.6" height="4.6" fill="#111"/>
<rect x="437.44" y="146.07" width="4.6" height="4.6" fill="#111"/>
<polyline points="297.10,86.30 314.93,86.30 332.76,86.30 350.59,89.64 368.42,90.41 386.25,86.94 404.08,86.30 421.91,86.30 439.74,90.16" fill="none" stroke="#222" stroke-width="1.05"/>
<line x1="350.59" y1="87.64" x2="350.59" y2="91.64" stroke="#222" stroke-width="1" />
<line x1="348.19" y1="87.64" x2="352.99" y2="87.64" stroke="#222" stroke-width="1" />
<line x1="348.19" y1="91.64" x2="352.99" y2="91.64" stroke="#222" stroke-width="1" />
<line x1="368.42" y1="87.41" x2="368.42" y2="93.41" stroke="#222" stroke-width="1" />
<line x1="366.02" y1="87.41" x2="370.82" y2="87.41" stroke="#222" stroke-width="1" />
<line x1="366.02" y1="93.41" x2="370.82" y2="93.41" stroke="#222" stroke-width="1" />
<line x1="386.25" y1="85.44" x2="386.25" y2="88.44" stroke="#222" stroke-width="1" />
<line x1="383.85" y1="85.44" x2="388.65" y2="85.44" stroke="#222" stroke-width="1" />
<line x1="383.85" y1="88.44" x2="388.65" y2="88.44" stroke="#222" stroke-width="1" />
<line x1="439.74" y1="87.66" x2="439.74" y2="92.66" stroke="#222" stroke-width="1" />
<line x1="437.34" y1="87.66" x2="442.14" y2="87.66" stroke="#222" stroke-width="1" />
<line x1="437.34" y1="92.66" x2="442.14" y2="92.66" stroke="#222" stroke-width="1" />
<path d="M294.45,88.88L299.75,88.88L297.10,83.82Z" fill="#111"/>
<path d="M312.28,88.88L317.58,88.88L314.93,83.82Z" fill="#111"/>
<path d="M330.11,88.88L335.41,88.88L332.76,83.82Z" fill="#111"/>
<path d="M347.94,92.22L353.24,92.22L350.59,87.16Z" fill="#111"/>
<path d="M365.77,92.99L371.07,92.99L368.42,87.93Z" fill="#111"/>
<path d="M383.60,89.52L388.90,89.52L386.25,84.46Z" fill="#111"/>
<path d="M401.43,88.88L406.73,88.88L404.08,83.82Z" fill="#111"/>
<path d="M419.26,88.88L424.56,88.88L421.91,83.82Z" fill="#111"/>
<path d="M437.09,92.73L442.39,92.73L439.74,87.68Z" fill="#111"/>
<path d="M404.08,76.35L404.08,81.05M402.04,77.53L406.12,79.88M406.12,77.53L402.04,79.88" stroke="#111" stroke-width="1.45" fill="none"/>
<path d="M418.91,76.35L418.91,81.05M416.87,77.53L420.95,79.88M420.95,77.53L416.87,79.88" stroke="#111" stroke-width="1.45" fill="none"/>
<path d="M424.91,76.35L424.91,81.05M422.87,77.53L426.95,79.88M426.95,77.53L422.87,79.88" stroke="#111" stroke-width="1.45" fill="none"/>
<line x1="505.20" y1="62.50" x2="505.20" y2="163.40" stroke="#2a2a2a" stroke-width="1.3" />
<line x1="504.55" y1="163.40" x2="684.50" y2="163.40" stroke="#2a2a2a" stroke-width="1.3" />
<line x1="501.70" y1="163.60" x2="505.20" y2="163.60" stroke="#111" stroke-width="1.2" />
<text x="500.90" y="166.59" font-size="8.8" fill="#111" text-anchor="end" font-weight="bold" >0</text>
<line x1="501.70" y1="143.40" x2="505.20" y2="143.40" stroke="#111" stroke-width="1.2" />
<text x="500.90" y="146.39" font-size="8.8" fill="#111" text-anchor="end" font-weight="bold" >1</text>
<line x1="501.70" y1="123.20" x2="505.20" y2="123.20" stroke="#111" stroke-width="1.2" />
<text x="500.90" y="126.19" font-size="8.8" fill="#111" text-anchor="end" font-weight="bold" >2</text>
<line x1="501.70" y1="103.00" x2="505.20" y2="103.00" stroke="#111" stroke-width="1.2" />
<text x="500.90" y="105.99" font-size="8.8" fill="#111" text-anchor="end" font-weight="bold" >3</text>
<line x1="501.70" y1="82.80" x2="505.20" y2="82.80" stroke="#111" stroke-width="1.2" />
<text x="500.90" y="85.79" font-size="8.8" fill="#111" text-anchor="end" font-weight="bold" >4</text>
<line x1="501.70" y1="62.60" x2="505.20" y2="62.60" stroke="#111" stroke-width="1.2" />
<text x="500.90" y="65.59" font-size="8.8" fill="#111" text-anchor="end" font-weight="bold" >5</text>
<line x1="519.50" y1="163.40" x2="519.50" y2="166.70" stroke="#111" stroke-width="1.2" />
<text x="519.50" y="175.00" font-size="8.8" fill="#111" text-anchor="middle" font-weight="bold" >3</text>
<line x1="536.13" y1="163.40" x2="536.13" y2="166.70" stroke="#111" stroke-width="1.2" />
<text x="536.13" y="175.00" font-size="8.8" fill="#111" text-anchor="middle" font-weight="bold" >4</text>
<line x1="552.76" y1="163.40" x2="552.76" y2="166.70" stroke="#111" stroke-width="1.2" />
<text x="552.76" y="175.00" font-size="8.8" fill="#111" text-anchor="middle" font-weight="bold" >5</text>
<line x1="569.39" y1="163.40" x2="569.39" y2="166.70" stroke="#111" stroke-width="1.2" />
<text x="569.39" y="175.00" font-size="8.8" fill="#111" text-anchor="middle" font-weight="bold" >6</text>
<line x1="586.02" y1="163.40" x2="586.02" y2="166.70" stroke="#111" stroke-width="1.2" />
<text x="586.02" y="175.00" font-size="8.8" fill="#111" text-anchor="middle" font-weight="bold" >7</text>
<line x1="602.65" y1="163.40" x2="602.65" y2="166.70" stroke="#111" stroke-width="1.2" />
<text x="602.65" y="175.00" font-size="8.8" fill="#111" text-anchor="middle" font-weight="bold" >8</text>
<line x1="619.28" y1="163.40" x2="619.28" y2="166.70" stroke="#111" stroke-width="1.2" />
<text x="619.28" y="175.00" font-size="8.8" fill="#111" text-anchor="middle" font-weight="bold" >9</text>
<line x1="635.91" y1="163.40" x2="635.91" y2="166.70" stroke="#111" stroke-width="1.2" />
<text x="635.91" y="175.00" font-size="8.8" fill="#111" text-anchor="middle" font-weight="bold" >10</text>
<line x1="652.54" y1="163.40" x2="652.54" y2="166.70" stroke="#111" stroke-width="1.2" />
<text x="652.54" y="175.00" font-size="8.8" fill="#111" text-anchor="middle" font-weight="bold" >11</text>
<line x1="669.17" y1="163.40" x2="669.17" y2="166.70" stroke="#111" stroke-width="1.2" />
<text x="669.17" y="175.00" font-size="8.8" fill="#111" text-anchor="middle" font-weight="bold" >12</text>
<text x="593.20" y="190.80" font-size="14" fill="#111" text-anchor="middle" font-weight="bold" >Days</text>
<text transform="translate(488.2,119) rotate(-90)" font-size="14" font-weight="bold" fill="#111" text-anchor="middle">Score</text>
<polyline points="519.50,83.00 536.13,90.48 552.76,88.86 569.39,92.09 586.02,87.04 602.65,83.00 619.28,83.00 635.91,83.20 652.54,84.21 669.17,83.61" fill="none" stroke="#999" stroke-width="0.9"/>
<line x1="519.50" y1="82.20" x2="519.50" y2="83.80" stroke="#9a9a9a" stroke-width="0.85" />
<line x1="517.10" y1="82.20" x2="521.90" y2="82.20" stroke="#9a9a9a" stroke-width="0.85" />
<line x1="517.10" y1="83.80" x2="521.90" y2="83.80" stroke="#9a9a9a" stroke-width="0.85" />
<line x1="536.13" y1="88.48" x2="536.13" y2="92.48" stroke="#9a9a9a" stroke-width="0.85" />
<line x1="533.73" y1="88.48" x2="538.53" y2="88.48" stroke="#9a9a9a" stroke-width="0.85" />
<line x1="533.73" y1="92.48" x2="538.53" y2="92.48" stroke="#9a9a9a" stroke-width="0.85" />
<line x1="552.76" y1="87.86" x2="552.76" y2="89.86" stroke="#9a9a9a" stroke-width="0.85" />
<line x1="550.36" y1="87.86" x2="555.16" y2="87.86" stroke="#9a9a9a" stroke-width="0.85" />
<line x1="550.36" y1="89.86" x2="555.16" y2="89.86" stroke="#9a9a9a" stroke-width="0.85" />
<line x1="569.39" y1="91.09" x2="569.39" y2="93.09" stroke="#9a9a9a" stroke-width="0.85" />
<line x1="566.99" y1="91.09" x2="571.79" y2="91.09" stroke="#9a9a9a" stroke-width="0.85" />
<line x1="566.99" y1="93.09" x2="571.79" y2="93.09" stroke="#9a9a9a" stroke-width="0.85" />
<line x1="586.02" y1="86.04" x2="586.02" y2="88.04" stroke="#9a9a9a" stroke-width="0.85" />
<line x1="583.62" y1="86.04" x2="588.42" y2="86.04" stroke="#9a9a9a" stroke-width="0.85" />
<line x1="583.62" y1="88.04" x2="588.42" y2="88.04" stroke="#9a9a9a" stroke-width="0.85" />
<line x1="602.65" y1="82.00" x2="602.65" y2="84.00" stroke="#9a9a9a" stroke-width="0.85" />
<line x1="600.25" y1="82.00" x2="605.05" y2="82.00" stroke="#9a9a9a" stroke-width="0.85" />
<line x1="600.25" y1="84.00" x2="605.05" y2="84.00" stroke="#9a9a9a" stroke-width="0.85" />
<line x1="619.28" y1="82.00" x2="619.28" y2="84.00" stroke="#9a9a9a" stroke-width="0.85" />
<line x1="616.88" y1="82.00" x2="621.68" y2="82.00" stroke="#9a9a9a" stroke-width="0.85" />
<line x1="616.88" y1="84.00" x2="621.68" y2="84.00" stroke="#9a9a9a" stroke-width="0.85" />
<line x1="635.91" y1="82.20" x2="635.91" y2="84.20" stroke="#9a9a9a" stroke-width="0.85" />
<line x1="633.51" y1="82.20" x2="638.31" y2="82.20" stroke="#9a9a9a" stroke-width="0.85" />
<line x1="633.51" y1="84.20" x2="638.31" y2="84.20" stroke="#9a9a9a" stroke-width="0.85" />
<line x1="652.54" y1="83.21" x2="652.54" y2="85.21" stroke="#9a9a9a" stroke-width="0.85" />
<line x1="650.14" y1="83.21" x2="654.94" y2="83.21" stroke="#9a9a9a" stroke-width="0.85" />
<line x1="650.14" y1="85.21" x2="654.94" y2="85.21" stroke="#9a9a9a" stroke-width="0.85" />
<line x1="669.17" y1="82.61" x2="669.17" y2="84.61" stroke="#9a9a9a" stroke-width="0.85" />
<line x1="666.77" y1="82.61" x2="671.57" y2="82.61" stroke="#9a9a9a" stroke-width="0.85" />
<line x1="666.77" y1="84.61" x2="671.57" y2="84.61" stroke="#9a9a9a" stroke-width="0.85" />
<rect x="517.20" y="80.70" width="4.6" height="4.6" fill="#7c7c7c"/>
<rect x="533.83" y="88.18" width="4.6" height="4.6" fill="#7c7c7c"/>
<rect x="550.46" y="86.56" width="4.6" height="4.6" fill="#7c7c7c"/>
<rect x="567.09" y="89.79" width="4.6" height="4.6" fill="#7c7c7c"/>
<rect x="583.72" y="84.74" width="4.6" height="4.6" fill="#7c7c7c"/>
<rect x="600.35" y="80.70" width="4.6" height="4.6" fill="#7c7c7c"/>
<rect x="616.98" y="80.70" width="4.6" height="4.6" fill="#7c7c7c"/>
<rect x="633.61" y="80.90" width="4.6" height="4.6" fill="#7c7c7c"/>
<rect x="650.24" y="81.91" width="4.6" height="4.6" fill="#7c7c7c"/>
<rect x="666.87" y="81.31" width="4.6" height="4.6" fill="#7c7c7c"/>
<polyline points="519.50,108.66 536.13,111.28 552.76,112.49 569.39,115.32 586.02,112.09 602.65,109.87 619.28,96.94 635.91,104.41 652.54,105.83 669.17,114.31" fill="none" stroke="#999" stroke-width="0.9"/>
<line x1="519.50" y1="103.66" x2="519.50" y2="113.66" stroke="#9a9a9a" stroke-width="0.85" />
<line x1="517.10" y1="103.66" x2="521.90" y2="103.66" stroke="#9a9a9a" stroke-width="0.85" />
<line x1="517.10" y1="113.66" x2="521.90" y2="113.66" stroke="#9a9a9a" stroke-width="0.85" />
<line x1="536.13" y1="106.28" x2="536.13" y2="116.28" stroke="#9a9a9a" stroke-width="0.85" />
<line x1="533.73" y1="106.28" x2="538.53" y2="106.28" stroke="#9a9a9a" stroke-width="0.85" />
<line x1="533.73" y1="116.28" x2="538.53" y2="116.28" stroke="#9a9a9a" stroke-width="0.85" />
<line x1="552.76" y1="110.49" x2="552.76" y2="114.49" stroke="#9a9a9a" stroke-width="0.85" />
<line x1="550.36" y1="110.49" x2="555.16" y2="110.49" stroke="#9a9a9a" stroke-width="0.85" />
<line x1="550.36" y1="114.49" x2="555.16" y2="114.49" stroke="#9a9a9a" stroke-width="0.85" />
<line x1="569.39" y1="114.32" x2="569.39" y2="116.32" stroke="#9a9a9a" stroke-width="0.85" />
<line x1="566.99" y1="114.32" x2="571.79" y2="114.32" stroke="#9a9a9a" stroke-width="0.85" />
<line x1="566.99" y1="116.32" x2="571.79" y2="116.32" stroke="#9a9a9a" stroke-width="0.85" />
<line x1="586.02" y1="110.09" x2="586.02" y2="114.09" stroke="#9a9a9a" stroke-width="0.85" />
<line x1="583.62" y1="110.09" x2="588.42" y2="110.09" stroke="#9a9a9a" stroke-width="0.85" />
<line x1="583.62" y1="114.09" x2="588.42" y2="114.09" stroke="#9a9a9a" stroke-width="0.85" />
<line x1="602.65" y1="107.37" x2="602.65" y2="112.37" stroke="#9a9a9a" stroke-width="0.85" />
<line x1="600.25" y1="107.37" x2="605.05" y2="107.37" stroke="#9a9a9a" stroke-width="0.85" />
<line x1="600.25" y1="112.37" x2="605.05" y2="112.37" stroke="#9a9a9a" stroke-width="0.85" />
<line x1="619.28" y1="95.44" x2="619.28" y2="98.44" stroke="#9a9a9a" stroke-width="0.85" />
<line x1="616.88" y1="95.44" x2="621.68" y2="95.44" stroke="#9a9a9a" stroke-width="0.85" />
<line x1="616.88" y1="98.44" x2="621.68" y2="98.44" stroke="#9a9a9a" stroke-width="0.85" />
<line x1="635.91" y1="97.41" x2="635.91" y2="111.41" stroke="#9a9a9a" stroke-width="0.85" />
<line x1="633.51" y1="97.41" x2="638.31" y2="97.41" stroke="#9a9a9a" stroke-width="0.85" />
<line x1="633.51" y1="111.41" x2="638.31" y2="111.41" stroke="#9a9a9a" stroke-width="0.85" />
<line x1="652.54" y1="100.83" x2="652.54" y2="110.83" stroke="#9a9a9a" stroke-width="0.85" />
<line x1="650.14" y1="100.83" x2="654.94" y2="100.83" stroke="#9a9a9a" stroke-width="0.85" />
<line x1="650.14" y1="110.83" x2="654.94" y2="110.83" stroke="#9a9a9a" stroke-width="0.85" />
<line x1="669.17" y1="111.81" x2="669.17" y2="116.81" stroke="#9a9a9a" stroke-width="0.85" />
<line x1="666.77" y1="111.81" x2="671.57" y2="111.81" stroke="#9a9a9a" stroke-width="0.85" />
<line x1="666.77" y1="116.81" x2="671.57" y2="116.81" stroke="#9a9a9a" stroke-width="0.85" />
<path d="M516.85,111.23L522.15,111.23L519.50,106.18Z" fill="#7c7c7c"/>
<path d="M533.48,113.86L538.78,113.86L536.13,108.80Z" fill="#7c7c7c"/>
<path d="M550.11,115.07L555.41,115.07L552.76,110.02Z" fill="#7c7c7c"/>
<path d="M566.74,117.90L572.04,117.90L569.39,112.84Z" fill="#7c7c7c"/>
<path d="M583.37,114.67L588.67,114.67L586.02,109.61Z" fill="#7c7c7c"/>
<path d="M600.00,112.45L605.30,112.45L602.65,107.39Z" fill="#7c7c7c"/>
<path d="M616.63,99.52L621.93,99.52L619.28,94.46Z" fill="#7c7c7c"/>
<path d="M633.26,106.99L638.56,106.99L635.91,101.93Z" fill="#7c7c7c"/>
<path d="M649.89,108.41L655.19,108.41L652.54,103.35Z" fill="#7c7c7c"/>
<path d="M666.52,116.89L671.82,116.89L669.17,111.83Z" fill="#7c7c7c"/>
<polyline points="519.50,89.06 536.13,89.87 552.76,88.46 569.39,85.83 586.02,87.24 602.65,85.83 619.28,87.24 635.91,85.02 652.54,84.21 669.17,89.47" fill="none" stroke="#222" stroke-width="1.05"/>
<line x1="519.50" y1="88.06" x2="519.50" y2="90.06" stroke="#222" stroke-width="1" />
<line x1="517.10" y1="88.06" x2="521.90" y2="88.06" stroke="#222" stroke-width="1" />
<line x1="517.10" y1="90.06" x2="521.90" y2="90.06" stroke="#222" stroke-width="1" />
<line x1="536.13" y1="87.87" x2="536.13" y2="91.87" stroke="#222" stroke-width="1" />
<line x1="533.73" y1="87.87" x2="538.53" y2="87.87" stroke="#222" stroke-width="1" />
<line x1="533.73" y1="91.87" x2="538.53" y2="91.87" stroke="#222" stroke-width="1" />
<line x1="552.76" y1="86.96" x2="552.76" y2="89.96" stroke="#222" stroke-width="1" />
<line x1="550.36" y1="86.96" x2="555.16" y2="86.96" stroke="#222" stroke-width="1" />
<line x1="550.36" y1="89.96" x2="555.16" y2="89.96" stroke="#222" stroke-width="1" />
<line x1="569.39" y1="84.83" x2="569.39" y2="86.83" stroke="#222" stroke-width="1" />
<line x1="566.99" y1="84.83" x2="571.79" y2="84.83" stroke="#222" stroke-width="1" />
<line x1="566.99" y1="86.83" x2="571.79" y2="86.83" stroke="#222" stroke-width="1" />
<line x1="586.02" y1="86.24" x2="586.02" y2="88.24" stroke="#222" stroke-width="1" />
<line x1="583.62" y1="86.24" x2="588.42" y2="86.24" stroke="#222" stroke-width="1" />
<line x1="583.62" y1="88.24" x2="588.42" y2="88.24" stroke="#222" stroke-width="1" />
<line x1="602.65" y1="84.83" x2="602.65" y2="86.83" stroke="#222" stroke-width="1" />
<line x1="600.25" y1="84.83" x2="605.05" y2="84.83" stroke="#222" stroke-width="1" />
<line x1="600.25" y1="86.83" x2="605.05" y2="86.83" stroke="#222" stroke-width="1" />
<line x1="619.28" y1="83.74" x2="619.28" y2="90.74" stroke="#222" stroke-width="1" />
<line x1="616.88" y1="83.74" x2="621.68" y2="83.74" stroke="#222" stroke-width="1" />
<line x1="616.88" y1="90.74" x2="621.68" y2="90.74" stroke="#222" stroke-width="1" />
<line x1="635.91" y1="83.52" x2="635.91" y2="86.52" stroke="#222" stroke-width="1" />
<line x1="633.51" y1="83.52" x2="638.31" y2="83.52" stroke="#222" stroke-width="1" />
<line x1="633.51" y1="86.52" x2="638.31" y2="86.52" stroke="#222" stroke-width="1" />
<line x1="652.54" y1="83.21" x2="652.54" y2="85.21" stroke="#222" stroke-width="1" />
<line x1="650.14" y1="83.21" x2="654.94" y2="83.21" stroke="#222" stroke-width="1" />
<line x1="650.14" y1="85.21" x2="654.94" y2="85.21" stroke="#222" stroke-width="1" />
<line x1="669.17" y1="86.97" x2="669.17" y2="91.97" stroke="#222" stroke-width="1" />
<line x1="666.77" y1="86.97" x2="671.57" y2="86.97" stroke="#222" stroke-width="1" />
<line x1="666.77" y1="91.97" x2="671.57" y2="91.97" stroke="#222" stroke-width="1" />
<rect x="517.20" y="86.76" width="4.6" height="4.6" fill="#111"/>
<rect x="533.83" y="87.57" width="4.6" height="4.6" fill="#111"/>
<rect x="550.46" y="86.16" width="4.6" height="4.6" fill="#111"/>
<rect x="567.09" y="83.53" width="4.6" height="4.6" fill="#111"/>
<rect x="583.72" y="84.94" width="4.6" height="4.6" fill="#111"/>
<rect x="600.35" y="83.53" width="4.6" height="4.6" fill="#111"/>
<rect x="616.98" y="84.94" width="4.6" height="4.6" fill="#111"/>
<rect x="633.61" y="82.72" width="4.6" height="4.6" fill="#111"/>
<rect x="650.24" y="81.91" width="4.6" height="4.6" fill="#111"/>
<rect x="666.87" y="87.17" width="4.6" height="4.6" fill="#111"/>
<polyline points="519.50,113.50 536.13,114.31 552.76,127.04 569.39,116.13 586.02,112.70 602.65,111.28 619.28,108.45 635.91,118.76 652.54,118.76 669.17,131.08" fill="none" stroke="#222" stroke-width="1.05"/>
<line x1="519.50" y1="108.50" x2="519.50" y2="118.50" stroke="#222" stroke-width="1" />
<line x1="517.10" y1="108.50" x2="521.90" y2="108.50" stroke="#222" stroke-width="1" />
<line x1="517.10" y1="118.50" x2="521.90" y2="118.50" stroke="#222" stroke-width="1" />
<line x1="536.13" y1="111.31" x2="536.13" y2="117.31" stroke="#222" stroke-width="1" />
<line x1="533.73" y1="111.31" x2="538.53" y2="111.31" stroke="#222" stroke-width="1" />
<line x1="533.73" y1="117.31" x2="538.53" y2="117.31" stroke="#222" stroke-width="1" />
<line x1="552.76" y1="121.54" x2="552.76" y2="132.54" stroke="#222" stroke-width="1" />
<line x1="550.36" y1="121.54" x2="555.16" y2="121.54" stroke="#222" stroke-width="1" />
<line x1="550.36" y1="132.54" x2="555.16" y2="132.54" stroke="#222" stroke-width="1" />
<line x1="569.39" y1="114.13" x2="569.39" y2="118.13" stroke="#222" stroke-width="1" />
<line x1="566.99" y1="114.13" x2="571.79" y2="114.13" stroke="#222" stroke-width="1" />
<line x1="566.99" y1="118.13" x2="571.79" y2="118.13" stroke="#222" stroke-width="1" />
<line x1="586.02" y1="109.20" x2="586.02" y2="116.20" stroke="#222" stroke-width="1" />
<line x1="583.62" y1="109.20" x2="588.42" y2="109.20" stroke="#222" stroke-width="1" />
<line x1="583.62" y1="116.20" x2="588.42" y2="116.20" stroke="#222" stroke-width="1" />
<line x1="602.65" y1="108.28" x2="602.65" y2="114.28" stroke="#222" stroke-width="1" />
<line x1="600.25" y1="108.28" x2="605.05" y2="108.28" stroke="#222" stroke-width="1" />
<line x1="600.25" y1="114.28" x2="605.05" y2="114.28" stroke="#222" stroke-width="1" />
<line x1="619.28" y1="106.95" x2="619.28" y2="109.95" stroke="#222" stroke-width="1" />
<line x1="616.88" y1="106.95" x2="621.68" y2="106.95" stroke="#222" stroke-width="1" />
<line x1="616.88" y1="109.95" x2="621.68" y2="109.95" stroke="#222" stroke-width="1" />
<line x1="635.91" y1="117.76" x2="635.91" y2="119.76" stroke="#222" stroke-width="1" />
<line x1="633.51" y1="117.76" x2="638.31" y2="117.76" stroke="#222" stroke-width="1" />
<line x1="633.51" y1="119.76" x2="638.31" y2="119.76" stroke="#222" stroke-width="1" />
<line x1="652.54" y1="116.26" x2="652.54" y2="121.26" stroke="#222" stroke-width="1" />
<line x1="650.14" y1="116.26" x2="654.94" y2="116.26" stroke="#222" stroke-width="1" />
<line x1="650.14" y1="121.26" x2="654.94" y2="121.26" stroke="#222" stroke-width="1" />
<line x1="669.17" y1="124.58" x2="669.17" y2="137.58" stroke="#222" stroke-width="1" />
<line x1="666.77" y1="124.58" x2="671.57" y2="124.58" stroke="#222" stroke-width="1" />
<line x1="666.77" y1="137.58" x2="671.57" y2="137.58" stroke="#222" stroke-width="1" />
<path d="M516.85,116.08L522.15,116.08L519.50,111.02Z" fill="#111"/>
<path d="M533.48,116.89L538.78,116.89L536.13,111.83Z" fill="#111"/>
<path d="M550.11,129.62L555.41,129.62L552.76,124.56Z" fill="#111"/>
<path d="M566.74,118.71L572.04,118.71L569.39,113.65Z" fill="#111"/>
<path d="M583.37,115.27L588.67,115.27L586.02,110.22Z" fill="#111"/>
<path d="M600.00,113.86L605.30,113.86L602.65,108.80Z" fill="#111"/>
<path d="M616.63,111.03L621.93,111.03L619.28,105.97Z" fill="#111"/>
<path d="M633.26,121.33L638.56,121.33L635.91,116.28Z" fill="#111"/>
<path d="M649.89,121.33L655.19,121.33L652.54,116.28Z" fill="#111"/>
<path d="M666.52,133.66L671.82,133.66L669.17,128.60Z" fill="#111"/>
<path d="M549.76,101.25L549.76,105.95M547.72,102.42L551.80,104.77M551.80,102.42L547.72,104.77" stroke="#111" stroke-width="1.45" fill="none"/>
<path d="M555.76,101.25L555.76,105.95M553.72,102.42L557.80,104.77M557.80,102.42L553.72,104.77" stroke="#111" stroke-width="1.45" fill="none"/>
<path d="M619.28,100.05L619.28,104.75M617.24,101.23L621.32,103.58M621.32,101.23L617.24,103.58" stroke="#111" stroke-width="1.45" fill="none"/>
<path d="M635.91,90.25L635.91,94.95M633.87,91.42L637.95,93.77M637.95,91.42L633.87,93.77" stroke="#111" stroke-width="1.45" fill="none"/>
<path d="M666.17,102.25L666.17,106.95M664.13,103.42L668.21,105.77M668.21,103.42L664.13,105.77" stroke="#111" stroke-width="1.45" fill="none"/>
<path d="M672.17,102.25L672.17,106.95M670.13,103.42L674.21,105.77M674.21,103.42L670.13,105.77" stroke="#111" stroke-width="1.45" fill="none"/>
<line x1="61.70" y1="248.60" x2="61.70" y2="352.50" stroke="#2a2a2a" stroke-width="1.3" />
<line x1="61.05" y1="352.50" x2="256.40" y2="352.50" stroke="#2a2a2a" stroke-width="1.3" />
<line x1="58.20" y1="352.50" x2="61.70" y2="352.50" stroke="#111" stroke-width="1.2" />
<text x="56.20" y="355.76" font-size="9.6" fill="#111" text-anchor="end" font-weight="bold" >0</text>
<line x1="58.20" y1="326.52" x2="61.70" y2="326.52" stroke="#111" stroke-width="1.2" />
<text x="56.20" y="329.78" font-size="9.6" fill="#111" text-anchor="end" font-weight="bold" >2</text>
<line x1="58.20" y1="300.54" x2="61.70" y2="300.54" stroke="#111" stroke-width="1.2" />
<text x="56.20" y="303.80" font-size="9.6" fill="#111" text-anchor="end" font-weight="bold" >4</text>
<line x1="58.20" y1="274.56" x2="61.70" y2="274.56" stroke="#111" stroke-width="1.2" />
<text x="56.20" y="277.82" font-size="9.6" fill="#111" text-anchor="end" font-weight="bold" >6</text>
<line x1="58.20" y1="248.58" x2="61.70" y2="248.58" stroke="#111" stroke-width="1.2" />
<text x="56.20" y="251.84" font-size="9.6" fill="#111" text-anchor="end" font-weight="bold" >8</text>
<line x1="76.70" y1="352.50" x2="76.70" y2="355.80" stroke="#111" stroke-width="1.2" />
<text x="76.70" y="364.90" font-size="9.2" fill="#111" text-anchor="middle" font-weight="bold" >3</text>
<line x1="94.86" y1="352.50" x2="94.86" y2="355.80" stroke="#111" stroke-width="1.2" />
<text x="94.86" y="364.90" font-size="9.2" fill="#111" text-anchor="middle" font-weight="bold" >4</text>
<line x1="113.02" y1="352.50" x2="113.02" y2="355.80" stroke="#111" stroke-width="1.2" />
<text x="113.02" y="364.90" font-size="9.2" fill="#111" text-anchor="middle" font-weight="bold" >5</text>
<line x1="131.18" y1="352.50" x2="131.18" y2="355.80" stroke="#111" stroke-width="1.2" />
<text x="131.18" y="364.90" font-size="9.2" fill="#111" text-anchor="middle" font-weight="bold" >6</text>
<line x1="149.34" y1="352.50" x2="149.34" y2="355.80" stroke="#111" stroke-width="1.2" />
<text x="149.34" y="364.90" font-size="9.2" fill="#111" text-anchor="middle" font-weight="bold" >7</text>
<line x1="167.50" y1="352.50" x2="167.50" y2="355.80" stroke="#111" stroke-width="1.2" />
<text x="167.50" y="364.90" font-size="9.2" fill="#111" text-anchor="middle" font-weight="bold" >8</text>
<line x1="185.66" y1="352.50" x2="185.66" y2="355.80" stroke="#111" stroke-width="1.2" />
<text x="185.66" y="364.90" font-size="9.2" fill="#111" text-anchor="middle" font-weight="bold" >9</text>
<line x1="203.82" y1="352.50" x2="203.82" y2="355.80" stroke="#111" stroke-width="1.2" />
<text x="203.82" y="364.90" font-size="9.2" fill="#111" text-anchor="middle" font-weight="bold" >10</text>
<line x1="221.98" y1="352.50" x2="221.98" y2="355.80" stroke="#111" stroke-width="1.2" />
<text x="221.98" y="364.90" font-size="9.2" fill="#111" text-anchor="middle" font-weight="bold" >11</text>
<line x1="240.14" y1="352.50" x2="240.14" y2="355.80" stroke="#111" stroke-width="1.2" />
<text x="240.14" y="364.90" font-size="9.2" fill="#111" text-anchor="middle" font-weight="bold" >12</text>
<text x="151.30" y="380.30" font-size="14" fill="#111" text-anchor="middle" font-weight="bold" >Days</text>
<text transform="translate(38.3,294.6) rotate(-90)" font-size="14.3" font-weight="bold" fill="#111" text-anchor="middle">Grams</text>
<polyline points="76.70,317.30 94.86,313.01 113.02,310.67 131.18,307.29 149.34,299.50 167.50,289.89 185.66,278.20 203.82,272.48 221.98,271.44 240.14,273.26" fill="none" stroke="#999" stroke-width="0.8"/>
<line x1="76.70" y1="312.30" x2="76.70" y2="322.30" stroke="#9a9a9a" stroke-width="0.85" />
<line x1="74.30" y1="312.30" x2="79.10" y2="312.30" stroke="#9a9a9a" stroke-width="0.85" />
<line x1="74.30" y1="322.30" x2="79.10" y2="322.30" stroke="#9a9a9a" stroke-width="0.85" />
<line x1="94.86" y1="311.01" x2="94.86" y2="315.01" stroke="#9a9a9a" stroke-width="0.85" />
<line x1="92.46" y1="311.01" x2="97.26" y2="311.01" stroke="#9a9a9a" stroke-width="0.85" />
<line x1="92.46" y1="315.01" x2="97.26" y2="315.01" stroke="#9a9a9a" stroke-width="0.85" />
<line x1="113.02" y1="309.17" x2="113.02" y2="312.17" stroke="#9a9a9a" stroke-width="0.85" />
<line x1="110.62" y1="309.17" x2="115.42" y2="309.17" stroke="#9a9a9a" stroke-width="0.85" />
<line x1="110.62" y1="312.17" x2="115.42" y2="312.17" stroke="#9a9a9a" stroke-width="0.85" />
<line x1="131.18" y1="306.29" x2="131.18" y2="308.29" stroke="#9a9a9a" stroke-width="0.85" />
<line x1="128.78" y1="306.29" x2="133.58" y2="306.29" stroke="#9a9a9a" stroke-width="0.85" />
<line x1="128.78" y1="308.29" x2="133.58" y2="308.29" stroke="#9a9a9a" stroke-width="0.85" />
<line x1="149.34" y1="298.00" x2="149.34" y2="301.00" stroke="#9a9a9a" stroke-width="0.85" />
<line x1="146.94" y1="298.00" x2="151.74" y2="298.00" stroke="#9a9a9a" stroke-width="0.85" />
<line x1="146.94" y1="301.00" x2="151.74" y2="301.00" stroke="#9a9a9a" stroke-width="0.85" />
<line x1="167.50" y1="286.39" x2="167.50" y2="293.39" stroke="#9a9a9a" stroke-width="0.85" />
<line x1="165.10" y1="286.39" x2="169.90" y2="286.39" stroke="#9a9a9a" stroke-width="0.85" />
<line x1="165.10" y1="293.39" x2="169.90" y2="293.39" stroke="#9a9a9a" stroke-width="0.85" />
<line x1="185.66" y1="274.20" x2="185.66" y2="282.20" stroke="#9a9a9a" stroke-width="0.85" />
<line x1="183.26" y1="274.20" x2="188.06" y2="274.20" stroke="#9a9a9a" stroke-width="0.85" />
<line x1="183.26" y1="282.20" x2="188.06" y2="282.20" stroke="#9a9a9a" stroke-width="0.85" />
<line x1="203.82" y1="265.48" x2="203.82" y2="279.48" stroke="#9a9a9a" stroke-width="0.85" />
<line x1="201.42" y1="265.48" x2="206.22" y2="265.48" stroke="#9a9a9a" stroke-width="0.85" />
<line x1="201.42" y1="279.48" x2="206.22" y2="279.48" stroke="#9a9a9a" stroke-width="0.85" />
<line x1="221.98" y1="262.94" x2="221.98" y2="279.94" stroke="#9a9a9a" stroke-width="0.85" />
<line x1="219.58" y1="262.94" x2="224.38" y2="262.94" stroke="#9a9a9a" stroke-width="0.85" />
<line x1="219.58" y1="279.94" x2="224.38" y2="279.94" stroke="#9a9a9a" stroke-width="0.85" />
<line x1="240.14" y1="269.76" x2="240.14" y2="276.76" stroke="#9a9a9a" stroke-width="0.85" />
<line x1="237.74" y1="269.76" x2="242.54" y2="269.76" stroke="#9a9a9a" stroke-width="0.85" />
<line x1="237.74" y1="276.76" x2="242.54" y2="276.76" stroke="#9a9a9a" stroke-width="0.85" />
<rect x="74.70" y="315.30" width="4.0" height="4.0" fill="#7c7c7c"/>
<rect x="92.86" y="311.01" width="4.0" height="4.0" fill="#7c7c7c"/>
<rect x="111.02" y="308.67" width="4.0" height="4.0" fill="#7c7c7c"/>
<rect x="129.18" y="305.29" width="4.0" height="4.0" fill="#7c7c7c"/>
<rect x="147.34" y="297.50" width="4.0" height="4.0" fill="#7c7c7c"/>
<rect x="165.50" y="287.89" width="4.0" height="4.0" fill="#7c7c7c"/>
<rect x="183.66" y="276.20" width="4.0" height="4.0" fill="#7c7c7c"/>
<rect x="201.82" y="270.48" width="4.0" height="4.0" fill="#7c7c7c"/>
<rect x="219.98" y="269.44" width="4.0" height="4.0" fill="#7c7c7c"/>
<rect x="238.14" y="271.26" width="4.0" height="4.0" fill="#7c7c7c"/>
<polyline points="76.70,327.17 94.86,330.29 113.02,322.88 131.18,319.77 149.34,317.43 167.50,315.09 185.66,307.03 203.82,307.03 221.98,309.24 240.14,311.58" fill="none" stroke="#999" stroke-width="0.8"/>
<line x1="76.70" y1="325.17" x2="76.70" y2="329.17" stroke="#9a9a9a" stroke-width="0.85" />
<line x1="74.30" y1="325.17" x2="79.10" y2="325.17" stroke="#9a9a9a" stroke-width="0.85" />
<line x1="74.30" y1="329.17" x2="79.10" y2="329.17" stroke="#9a9a9a" stroke-width="0.85" />
<line x1="94.86" y1="328.79" x2="94.86" y2="331.79" stroke="#9a9a9a" stroke-width="0.85" />
<line x1="92.46" y1="328.79" x2="97.26" y2="328.79" stroke="#9a9a9a" stroke-width="0.85" />
<line x1="92.46" y1="331.79" x2="97.26" y2="331.79" stroke="#9a9a9a" stroke-width="0.85" />
<line x1="113.02" y1="321.38" x2="113.02" y2="324.38" stroke="#9a9a9a" stroke-width="0.85" />
<line x1="110.62" y1="321.38" x2="115.42" y2="321.38" stroke="#9a9a9a" stroke-width="0.85" />
<line x1="110.62" y1="324.38" x2="115.42" y2="324.38" stroke="#9a9a9a" stroke-width="0.85" />
<line x1="131.18" y1="318.27" x2="131.18" y2="321.27" stroke="#9a9a9a" stroke-width="0.85" />
<line x1="128.78" y1="318.27" x2="133.58" y2="318.27" stroke="#9a9a9a" stroke-width="0.85" />
<line x1="128.78" y1="321.27" x2="133.58" y2="321.27" stroke="#9a9a9a" stroke-width="0.85" />
<line x1="149.34" y1="314.93" x2="149.34" y2="319.93" stroke="#9a9a9a" stroke-width="0.85" />
<line x1="146.94" y1="314.93" x2="151.74" y2="314.93" stroke="#9a9a9a" stroke-width="0.85" />
<line x1="146.94" y1="319.93" x2="151.74" y2="319.93" stroke="#9a9a9a" stroke-width="0.85" />
<line x1="167.50" y1="313.09" x2="167.50" y2="317.09" stroke="#9a9a9a" stroke-width="0.85" />
<line x1="165.10" y1="313.09" x2="169.90" y2="313.09" stroke="#9a9a9a" stroke-width="0.85" />
<line x1="165.10" y1="317.09" x2="169.90" y2="317.09" stroke="#9a9a9a" stroke-width="0.85" />
<line x1="185.66" y1="305.53" x2="185.66" y2="308.53" stroke="#9a9a9a" stroke-width="0.85" />
<line x1="183.26" y1="305.53" x2="188.06" y2="305.53" stroke="#9a9a9a" stroke-width="0.85" />
<line x1="183.26" y1="308.53" x2="188.06" y2="308.53" stroke="#9a9a9a" stroke-width="0.85" />
<line x1="203.82" y1="305.53" x2="203.82" y2="308.53" stroke="#9a9a9a" stroke-width="0.85" />
<line x1="201.42" y1="305.53" x2="206.22" y2="305.53" stroke="#9a9a9a" stroke-width="0.85" />
<line x1="201.42" y1="308.53" x2="206.22" y2="308.53" stroke="#9a9a9a" stroke-width="0.85" />
<line x1="221.98" y1="306.24" x2="221.98" y2="312.24" stroke="#9a9a9a" stroke-width="0.85" />
<line x1="219.58" y1="306.24" x2="224.38" y2="306.24" stroke="#9a9a9a" stroke-width="0.85" />
<line x1="219.58" y1="312.24" x2="224.38" y2="312.24" stroke="#9a9a9a" stroke-width="0.85" />
<line x1="240.14" y1="309.58" x2="240.14" y2="313.58" stroke="#9a9a9a" stroke-width="0.85" />
<line x1="237.74" y1="309.58" x2="242.54" y2="309.58" stroke="#9a9a9a" stroke-width="0.85" />
<line x1="237.74" y1="313.58" x2="242.54" y2="313.58" stroke="#9a9a9a" stroke-width="0.85" />
<path d="M74.20,329.62L79.20,329.62L76.70,324.82Z" fill="#7c7c7c"/>
<path d="M92.36,332.74L97.36,332.74L94.86,327.94Z" fill="#7c7c7c"/>
<path d="M110.52,325.33L115.52,325.33L113.02,320.53Z" fill="#7c7c7c"/>
<path d="M128.68,322.22L133.68,322.22L131.18,317.42Z" fill="#7c7c7c"/>
<path d="M146.84,319.88L151.84,319.88L149.34,315.08Z" fill="#7c7c7c"/>
<path d="M165.00,317.54L170.00,317.54L167.50,312.74Z" fill="#7c7c7c"/>
<path d="M183.16,309.48L188.16,309.48L185.66,304.69Z" fill="#7c7c7c"/>
<path d="M201.32,309.48L206.32,309.48L203.82,304.69Z" fill="#7c7c7c"/>
<path d="M219.48,311.69L224.48,311.69L221.98,306.89Z" fill="#7c7c7c"/>
<path d="M237.64,314.03L242.64,314.03L240.14,309.23Z" fill="#7c7c7c"/>
<polyline points="76.70,323.92 94.86,315.48 113.02,311.97 131.18,296.38 149.34,302.23 167.50,297.68 185.66,290.67 203.82,285.47 221.98,278.20 240.14,273.52" fill="none" stroke="#222" stroke-width="0.95"/>
<line x1="76.70" y1="321.92" x2="76.70" y2="325.92" stroke="#222" stroke-width="1" />
<line x1="74.30" y1="321.92" x2="79.10" y2="321.92" stroke="#222" stroke-width="1" />
<line x1="74.30" y1="325.92" x2="79.10" y2="325.92" stroke="#222" stroke-width="1" />
<line x1="94.86" y1="313.98" x2="94.86" y2="316.98" stroke="#222" stroke-width="1" />
<line x1="92.46" y1="313.98" x2="97.26" y2="313.98" stroke="#222" stroke-width="1" />
<line x1="92.46" y1="316.98" x2="97.26" y2="316.98" stroke="#222" stroke-width="1" />
<line x1="113.02" y1="310.47" x2="113.02" y2="313.47" stroke="#222" stroke-width="1" />
<line x1="110.62" y1="310.47" x2="115.42" y2="310.47" stroke="#222" stroke-width="1" />
<line x1="110.62" y1="313.47" x2="115.42" y2="313.47" stroke="#222" stroke-width="1" />
<line x1="131.18" y1="292.58" x2="131.18" y2="300.18" stroke="#222" stroke-width="1" />
<line x1="128.78" y1="292.58" x2="133.58" y2="292.58" stroke="#222" stroke-width="1" />
<line x1="128.78" y1="300.18" x2="133.58" y2="300.18" stroke="#222" stroke-width="1" />
<line x1="149.34" y1="300.23" x2="149.34" y2="304.23" stroke="#222" stroke-width="1" />
<line x1="146.94" y1="300.23" x2="151.74" y2="300.23" stroke="#222" stroke-width="1" />
<line x1="146.94" y1="304.23" x2="151.74" y2="304.23" stroke="#222" stroke-width="1" />
<line x1="167.50" y1="295.68" x2="167.50" y2="299.68" stroke="#222" stroke-width="1" />
<line x1="165.10" y1="295.68" x2="169.90" y2="295.68" stroke="#222" stroke-width="1" />
<line x1="165.10" y1="299.68" x2="169.90" y2="299.68" stroke="#222" stroke-width="1" />
<line x1="185.66" y1="289.17" x2="185.66" y2="292.17" stroke="#222" stroke-width="1" />
<line x1="183.26" y1="289.17" x2="188.06" y2="289.17" stroke="#222" stroke-width="1" />
<line x1="183.26" y1="292.17" x2="188.06" y2="292.17" stroke="#222" stroke-width="1" />
<line x1="203.82" y1="283.47" x2="203.82" y2="287.47" stroke="#222" stroke-width="1" />
<line x1="201.42" y1="283.47" x2="206.22" y2="283.47" stroke="#222" stroke-width="1" />
<line x1="201.42" y1="287.47" x2="206.22" y2="287.47" stroke="#222" stroke-width="1" />
<line x1="221.98" y1="270.70" x2="221.98" y2="285.70" stroke="#222" stroke-width="1" />
<line x1="219.58" y1="270.70" x2="224.38" y2="270.70" stroke="#222" stroke-width="1" />
<line x1="219.58" y1="285.70" x2="224.38" y2="285.70" stroke="#222" stroke-width="1" />
<line x1="240.14" y1="268.02" x2="240.14" y2="279.02" stroke="#222" stroke-width="1" />
<line x1="237.74" y1="268.02" x2="242.54" y2="268.02" stroke="#222" stroke-width="1" />
<line x1="237.74" y1="279.02" x2="242.54" y2="279.02" stroke="#222" stroke-width="1" />
<rect x="74.70" y="321.92" width="4.0" height="4.0" fill="#111"/>
<rect x="92.86" y="313.48" width="4.0" height="4.0" fill="#111"/>
<rect x="111.02" y="309.97" width="4.0" height="4.0" fill="#111"/>
<rect x="129.18" y="294.38" width="4.0" height="4.0" fill="#111"/>
<rect x="147.34" y="300.23" width="4.0" height="4.0" fill="#111"/>
<rect x="165.50" y="295.68" width="4.0" height="4.0" fill="#111"/>
<rect x="183.66" y="288.67" width="4.0" height="4.0" fill="#111"/>
<rect x="201.82" y="283.47" width="4.0" height="4.0" fill="#111"/>
<rect x="219.98" y="276.20" width="4.0" height="4.0" fill="#111"/>
<rect x="238.14" y="271.52" width="4.0" height="4.0" fill="#111"/>
<polyline points="76.70,328.21 94.86,323.92 113.02,321.71 131.18,313.66 149.34,311.58 167.50,305.74 185.66,306.26 203.82,305.74 221.98,309.76 240.14,312.88" fill="none" stroke="#222" stroke-width="0.95"/>
<line x1="76.70" y1="326.21" x2="76.70" y2="330.21" stroke="#222" stroke-width="1" />
<line x1="74.30" y1="326.21" x2="79.10" y2="326.21" stroke="#222" stroke-width="1" />
<line x1="74.30" y1="330.21" x2="79.10" y2="330.21" stroke="#222" stroke-width="1" />
<line x1="94.86" y1="322.42" x2="94.86" y2="325.42" stroke="#222" stroke-width="1" />
<line x1="92.46" y1="322.42" x2="97.26" y2="322.42" stroke="#222" stroke-width="1" />
<line x1="92.46" y1="325.42" x2="97.26" y2="325.42" stroke="#222" stroke-width="1" />
<line x1="113.02" y1="319.71" x2="113.02" y2="323.71" stroke="#222" stroke-width="1" />
<line x1="110.62" y1="319.71" x2="115.42" y2="319.71" stroke="#222" stroke-width="1" />
<line x1="110.62" y1="323.71" x2="115.42" y2="323.71" stroke="#222" stroke-width="1" />
<line x1="131.18" y1="311.66" x2="131.18" y2="315.66" stroke="#222" stroke-width="1" />
<line x1="128.78" y1="311.66" x2="133.58" y2="311.66" stroke="#222" stroke-width="1" />
<line x1="128.78" y1="315.66" x2="133.58" y2="315.66" stroke="#222" stroke-width="1" />
<line x1="149.34" y1="309.58" x2="149.34" y2="313.58" stroke="#222" stroke-width="1" />
<line x1="146.94" y1="309.58" x2="151.74" y2="309.58" stroke="#222" stroke-width="1" />
<line x1="146.94" y1="313.58" x2="151.74" y2="313.58" stroke="#222" stroke-width="1" />
<line x1="167.50" y1="303.74" x2="167.50" y2="307.74" stroke="#222" stroke-width="1" />
<line x1="165.10" y1="303.74" x2="169.90" y2="303.74" stroke="#222" stroke-width="1" />
<line x1="165.10" y1="307.74" x2="169.90" y2="307.74" stroke="#222" stroke-width="1" />
<line x1="185.66" y1="304.26" x2="185.66" y2="308.26" stroke="#222" stroke-width="1" />
<line x1="183.26" y1="304.26" x2="188.06" y2="304.26" stroke="#222" stroke-width="1" />
<line x1="183.26" y1="308.26" x2="188.06" y2="308.26" stroke="#222" stroke-width="1" />
<line x1="203.82" y1="303.74" x2="203.82" y2="307.74" stroke="#222" stroke-width="1" />
<line x1="201.42" y1="303.74" x2="206.22" y2="303.74" stroke="#222" stroke-width="1" />
<line x1="201.42" y1="307.74" x2="206.22" y2="307.74" stroke="#222" stroke-width="1" />
<line x1="221.98" y1="307.76" x2="221.98" y2="311.76" stroke="#222" stroke-width="1" />
<line x1="219.58" y1="307.76" x2="224.38" y2="307.76" stroke="#222" stroke-width="1" />
<line x1="219.58" y1="311.76" x2="224.38" y2="311.76" stroke="#222" stroke-width="1" />
<line x1="240.14" y1="311.38" x2="240.14" y2="314.38" stroke="#222" stroke-width="1" />
<line x1="237.74" y1="311.38" x2="242.54" y2="311.38" stroke="#222" stroke-width="1" />
<line x1="237.74" y1="314.38" x2="242.54" y2="314.38" stroke="#222" stroke-width="1" />
<path d="M74.20,330.66L79.20,330.66L76.70,325.86Z" fill="#111"/>
<path d="M92.36,326.37L97.36,326.37L94.86,321.57Z" fill="#111"/>
<path d="M110.52,324.16L115.52,324.16L113.02,319.36Z" fill="#111"/>
<path d="M128.68,316.11L133.68,316.11L131.18,311.31Z" fill="#111"/>
<path d="M146.84,314.03L151.84,314.03L149.34,309.23Z" fill="#111"/>
<path d="M165.00,308.19L170.00,308.19L167.50,303.39Z" fill="#111"/>
<path d="M183.16,308.71L188.16,308.71L185.66,303.91Z" fill="#111"/>
<path d="M201.32,308.19L206.32,308.19L203.82,303.39Z" fill="#111"/>
<path d="M219.48,312.21L224.48,312.21L221.98,307.41Z" fill="#111"/>
<path d="M237.64,315.33L242.64,315.33L240.14,310.53Z" fill="#111"/>
<text x="260.00" y="270.10" font-size="10.1" fill="#8c8c8c" text-anchor="start" font-weight="bold" >WT+AntimiR</text>
<text x="260.00" y="282.70" font-size="10.1" fill="#111" text-anchor="start" font-weight="bold" >WT+NT-AntimiR</text>
<text x="260.00" y="313.50" font-size="10.1" fill="#8c8c8c" text-anchor="start" font-weight="bold" >SMA+AntimiR</text>
<text x="260.00" y="324.90" font-size="10.1" fill="#111" text-anchor="start" font-weight="bold" >SMA+NT-AntimiR</text>
<line x1="426.90" y1="233.30" x2="426.90" y2="351.80" stroke="#222" stroke-width="1.1" />
<line x1="426.30" y1="351.80" x2="602.80" y2="351.80" stroke="#222" stroke-width="1.1" />
<line x1="423.20" y1="351.80" x2="426.90" y2="351.80" stroke="#222" stroke-width="1" />
<text x="421.60" y="355.00" font-size="9" fill="#111" text-anchor="end" font-weight="bold" >0</text>
<line x1="423.20" y1="298.20" x2="426.90" y2="298.20" stroke="#222" stroke-width="1" />
<text x="421.60" y="301.40" font-size="9" fill="#111" text-anchor="end" font-weight="bold" >50</text>
<line x1="423.20" y1="244.60" x2="426.90" y2="244.60" stroke="#222" stroke-width="1" />
<text x="421.60" y="247.80" font-size="9" fill="#111" text-anchor="end" font-weight="bold" >100</text>
<line x1="425.00" y1="325.00" x2="426.90" y2="325.00" stroke="#222" stroke-width="1" />
<line x1="425.00" y1="271.40" x2="426.90" y2="271.40" stroke="#222" stroke-width="1" />
<line x1="426.90" y1="351.80" x2="426.90" y2="355.20" stroke="#222" stroke-width="1" />
<text x="426.90" y="364.80" font-size="9" fill="#111" text-anchor="middle" font-weight="bold" >0</text>
<line x1="470.77" y1="351.80" x2="470.77" y2="355.20" stroke="#222" stroke-width="1" />
<text x="470.77" y="364.80" font-size="9" fill="#111" text-anchor="middle" font-weight="bold" >5</text>
<line x1="514.65" y1="351.80" x2="514.65" y2="355.20" stroke="#222" stroke-width="1" />
<text x="514.65" y="364.80" font-size="9" fill="#111" text-anchor="middle" font-weight="bold" >10</text>
<line x1="558.52" y1="351.80" x2="558.52" y2="355.20" stroke="#222" stroke-width="1" />
<text x="558.52" y="364.80" font-size="9" fill="#111" text-anchor="middle" font-weight="bold" >15</text>
<line x1="602.40" y1="351.80" x2="602.40" y2="355.20" stroke="#222" stroke-width="1" />
<text x="602.40" y="364.80" font-size="9" fill="#111" text-anchor="middle" font-weight="bold" >20</text>
<line x1="448.84" y1="351.80" x2="448.84" y2="353.80" stroke="#222" stroke-width="1" />
<line x1="492.71" y1="351.80" x2="492.71" y2="353.80" stroke="#222" stroke-width="1" />
<line x1="536.59" y1="351.80" x2="536.59" y2="353.80" stroke="#222" stroke-width="1" />
<line x1="580.46" y1="351.80" x2="580.46" y2="353.80" stroke="#222" stroke-width="1" />
<text x="514.50" y="382.70" font-size="14" fill="#111" text-anchor="middle" font-weight="bold" >Days</text>
<text transform="translate(398.6,294.5) rotate(-90)" font-size="11.6" font-weight="bold" fill="#111" text-anchor="middle">Survival rate of SMA mice</text>
<path d="M426.90,244.60H523.42V271.40H532.20V289.30H549.75V316.10H558.52V333.90H576.08V351.80" fill="none" stroke="#666" stroke-width="1" stroke-dasharray="3,2"/>
<path d="M523.42,252.85H532.20V277.62H540.98V285.87H549.75V318.78H558.52V351.80" fill="none" stroke="#222" stroke-width="1.5"/>
<path d="M426.90,244.60H523.42V252.85" fill="none" stroke="#4d4d4d" stroke-width="1.8"/>
<line x1="574.60" y1="241.10" x2="593.80" y2="241.10" stroke="#333" stroke-width="1.6" />
<line x1="574.60" y1="252.90" x2="593.80" y2="252.90" stroke="#999" stroke-width="1.1" stroke-dasharray="2.4,1.6"/>
<text x="600.50" y="244.80" font-size="10" fill="#111" text-anchor="start" font-weight="bold" >SMA+NT-AntimiR</text>
<text x="600.50" y="256.60" font-size="10" fill="#8c8c8c" text-anchor="start" font-weight="bold" >SMA+AntimiR</text>
</svg>
</body></html>
